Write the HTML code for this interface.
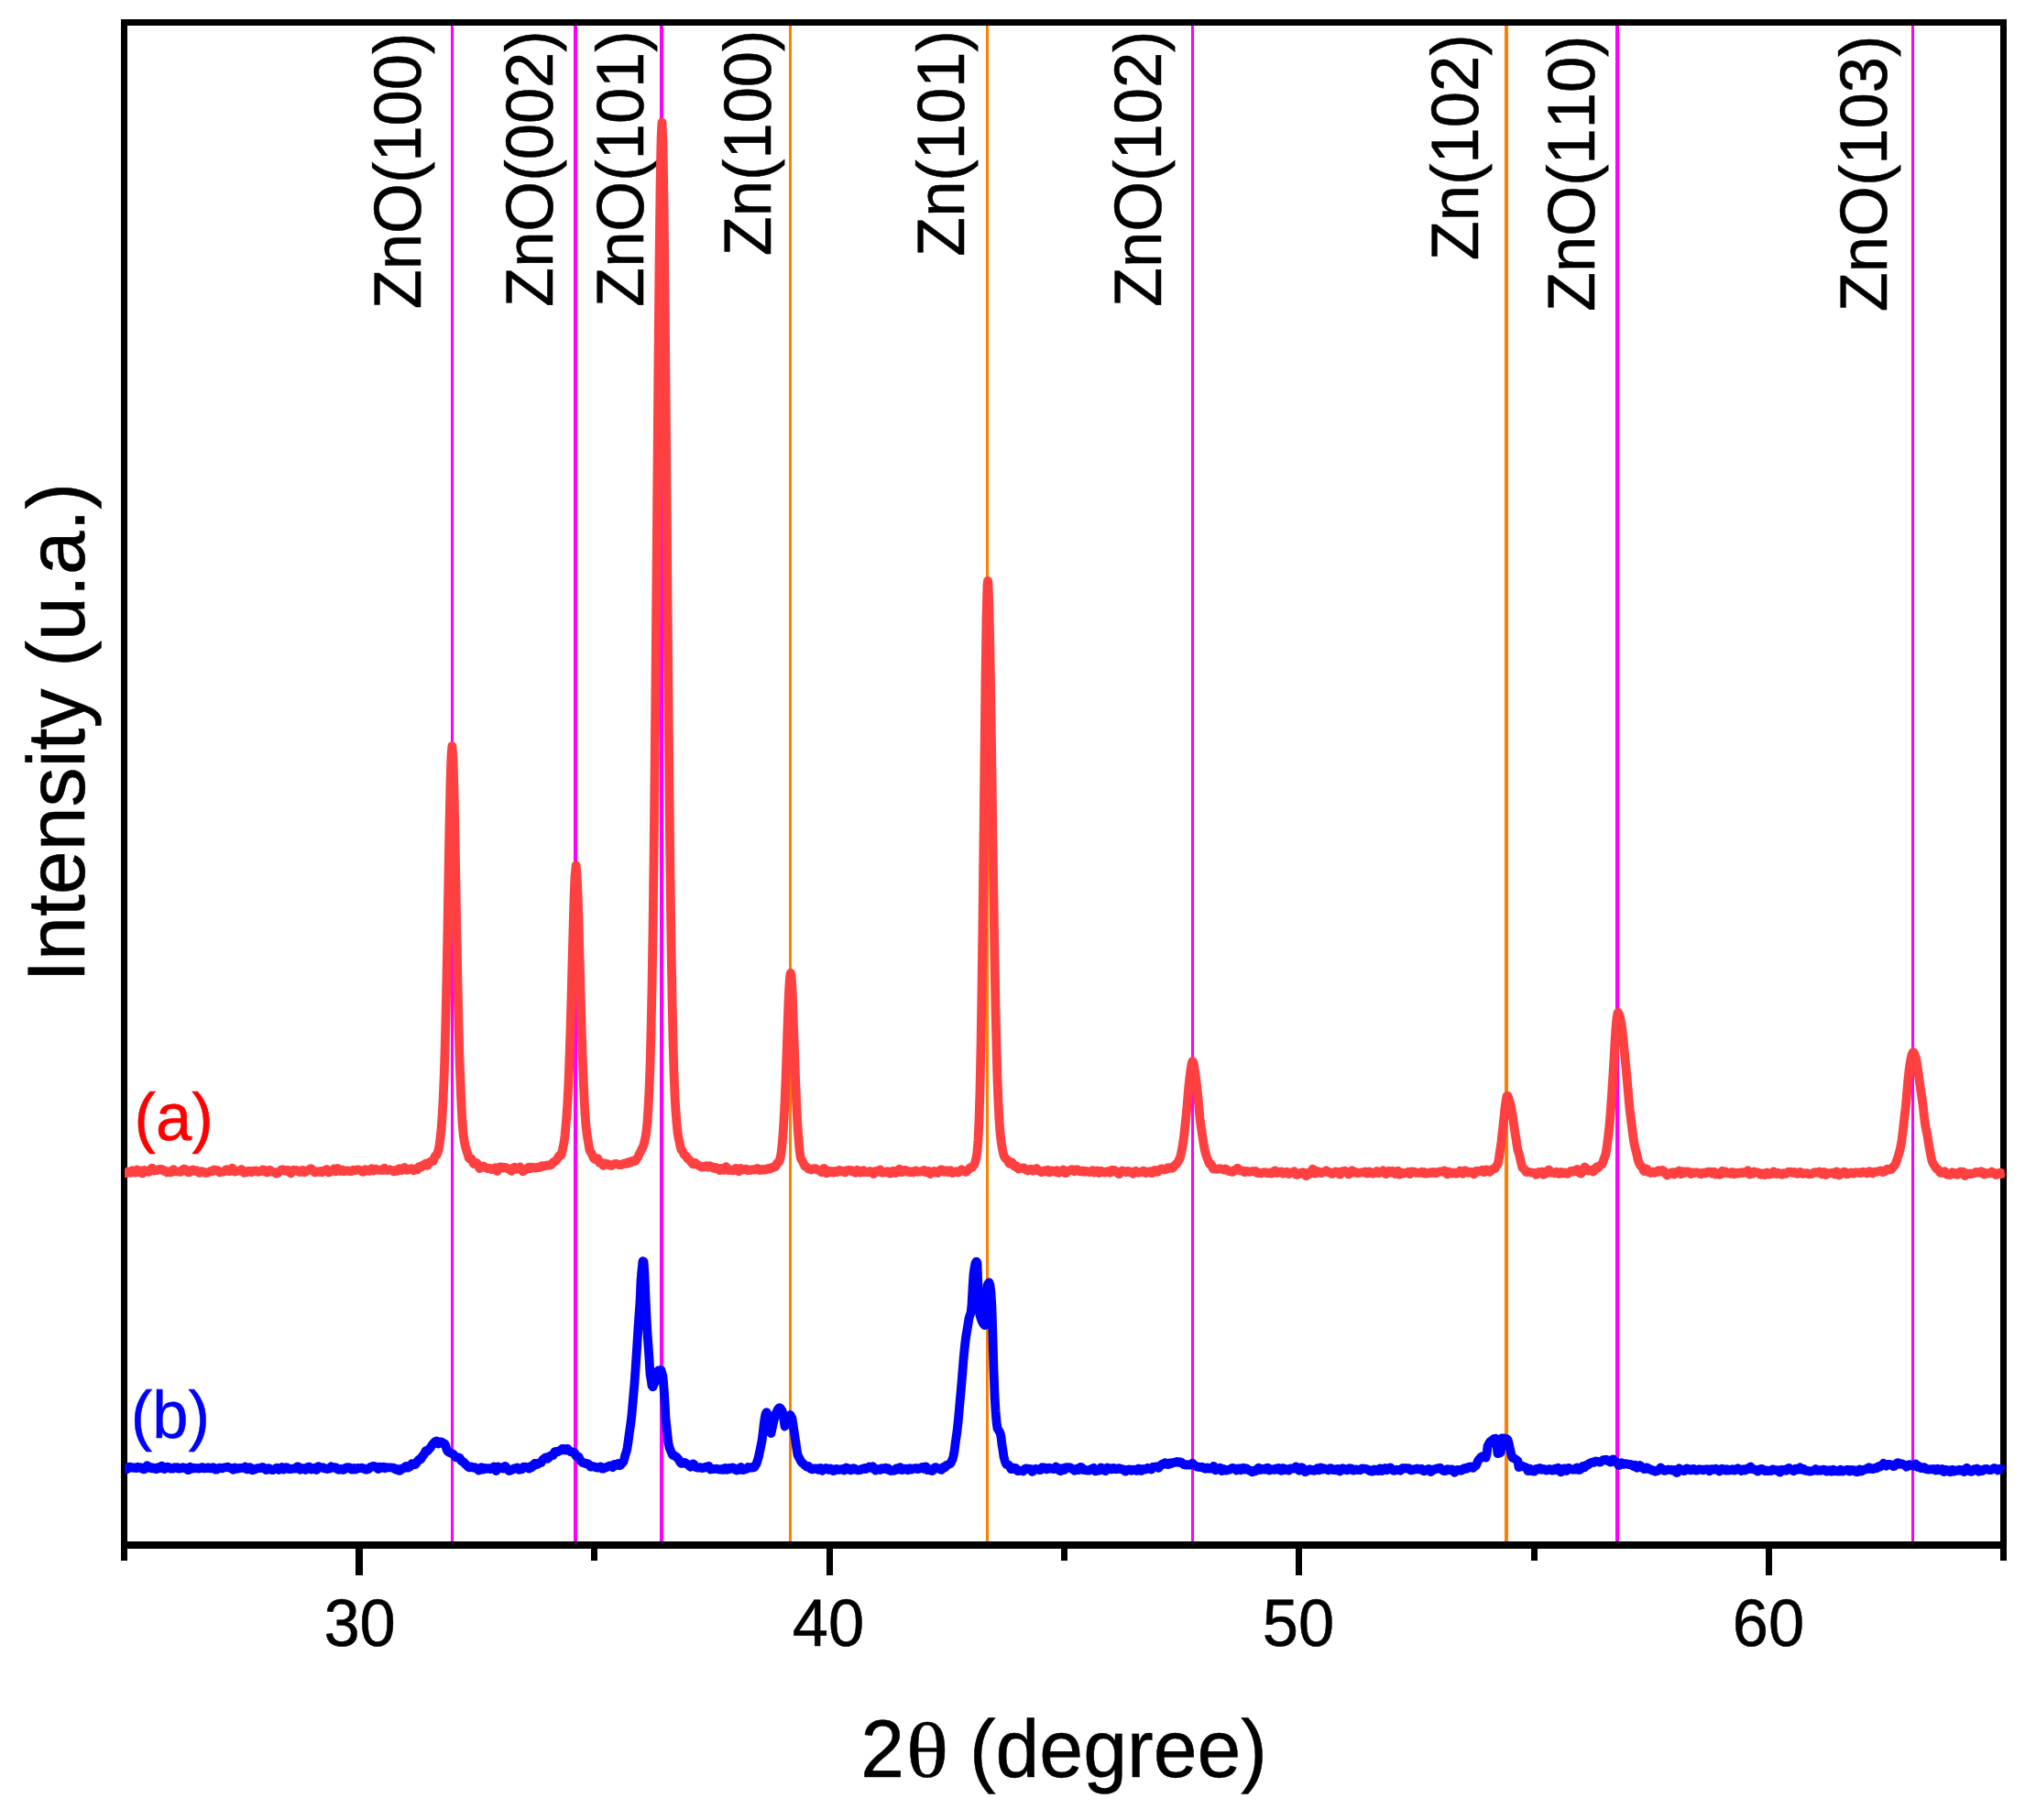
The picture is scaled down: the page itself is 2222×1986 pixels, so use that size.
<!DOCTYPE html>
<html lang="en"><head><meta charset="utf-8"><title>XRD patterns</title>
<style>html,body{margin:0;padding:0;background:#fff}svg{display:block}text{font-family:"Liberation Sans",Arial,Helvetica,sans-serif;fill:#000;stroke:#000;stroke-width:.5px;font-kerning:none;text-rendering:geometricPrecision}.t{font-size:70.5px}.ax{font-size:86px}.th{font-family:"Liberation Serif","DejaVu Serif",serif}</style></head><body>
<svg width="2222" height="1986" viewBox="0 0 2222 1986">
<rect width="2222" height="1986" fill="#fff"/>
<g shape-rendering="crispEdges">
<rect x="492" y="28" width="3" height="1654" fill="#ff00ff"/>
<rect x="626" y="28" width="4" height="1654" fill="#ff00ff"/>
<rect x="720" y="28" width="4" height="1654" fill="#ff00ff"/>
<rect x="861" y="28" width="3" height="1654" fill="#ff8000"/>
<rect x="1076" y="28" width="3" height="1654" fill="#ff8000"/>
<rect x="1300" y="28" width="3" height="1654" fill="#ff00ff"/>
<rect x="1642" y="28" width="4" height="1654" fill="#ff8000"/>
<rect x="1763" y="28" width="4" height="1654" fill="#ff00ff"/>
<rect x="2086" y="28" width="3" height="1654" fill="#ff00ff"/>
</g>
<g fill="#000" shape-rendering="crispEdges">
<rect x="132" y="21" width="2058" height="7"/>
<rect x="132" y="1682" width="2058" height="8"/>
<rect x="132" y="21" width="7" height="1682"/>
<rect x="2183" y="21" width="7" height="1682"/>
<rect x="388" y="1690" width="8" height="29"/>
<rect x="902" y="1690" width="7" height="29"/>
<rect x="1414" y="1690" width="7" height="29"/>
<rect x="1927" y="1690" width="7" height="29"/>
<rect x="645" y="1690" width="7" height="13"/>
<rect x="1158" y="1690" width="7" height="13"/>
<rect x="1671" y="1690" width="7" height="13"/>
</g>
<text class="t" transform="translate(459 337.2) rotate(-90) scale(1 1.035)">ZnO(100)</text>
<text class="t" transform="translate(603 334.9) rotate(-90) scale(1 1.035)">ZnO(002)</text>
<text class="t" transform="translate(702 334.9) rotate(-90) scale(1 1.035)">ZnO(101)</text>
<text class="t" transform="translate(841 279.3) rotate(-90) scale(1 1.035)">Zn(100)</text>
<text class="t" transform="translate(1052 279.9) rotate(-90) scale(1 1.035)">Zn(101)</text>
<text class="t" transform="translate(1267 335.1) rotate(-90) scale(1 1.035)">ZnO(102)</text>
<text class="t" transform="translate(1613 284.2) rotate(-90) scale(1 1.035)">Zn(102)</text>
<text class="t" transform="translate(1740 340.1) rotate(-90) scale(1 1.035)">ZnO(110)</text>
<text class="t" transform="translate(2059 340.2) rotate(-90) scale(1 1.035)">ZnO(103)</text>
<clipPath id="cc"><rect x="136" y="0" width="2052" height="1986"/></clipPath>
<g clip-path="url(#cc)">
<path d="M135.5 1277.4L136.5 1278L137.5 1280L138.5 1280L139.5 1278.7L140.5 1278.5L141.5 1279.2L142.5 1279.8L143.5 1278.8L144.5 1277.3L145.5 1277.7L146.5 1278.8L147.5 1279.6L148.5 1278.4L149.5 1276.4L150.5 1277.4L151.5 1279L152.5 1278L153.5 1277.4L154.5 1279.5L155.5 1280.5L156.5 1278.2L157.5 1277L158.5 1277.9L159.5 1278.5L160.5 1278.5L161.5 1278.7L162.5 1278.8L163.5 1277.5L164.5 1275.8L165.5 1274.7L166.5 1274.9L167.5 1276.6L168.5 1277.5L169.5 1277.1L170.5 1277L171.5 1277.2L172.5 1276.7L173.5 1275.9L174.5 1276L175.5 1276.1L176.5 1275.8L177.5 1276.5L178.5 1277.8L179.5 1278L180.5 1277.6L181.5 1278.5L182.5 1279.3L183.5 1278.7L184.5 1278.2L185.5 1278.5L186.5 1279.4L187.5 1279.1L188.5 1277L189.5 1276.2L190.5 1277.6L191.5 1278.3L192.5 1278.1L193.5 1278.4L194.5 1278.3L195.5 1278.3L196.5 1278.9L197.5 1278.6L198.5 1277.5L199.5 1276.5L200.5 1275.6L201.5 1275.8L202.5 1276L203.5 1276.7L204.5 1278.6L205.5 1279.3L206.5 1279.3L207.5 1278.9L208.5 1277.7L209.5 1276.8L210.5 1276.5L211.5 1277L212.5 1277.8L213.5 1277.6L214.5 1277.3L215.5 1278.3L216.5 1279.1L217.5 1279.8L218.5 1279.5L219.5 1278.2L220.5 1278.2L221.5 1278.6L222.5 1278.8L223.5 1279.5L224.5 1279.9L225.5 1279.7L226.5 1279.7L227.5 1279.2L228.5 1278.7L229.5 1278.1L230.5 1277.6L231.5 1278.2L232.5 1277.6L233.5 1276.4L234.5 1276.8L235.5 1277.3L236.5 1276.9L237.5 1277.1L238.5 1278.2L239.5 1279.3L240.5 1279L241.5 1278.6L242.5 1278.8L243.5 1278.4L244.5 1278.5L245.5 1278.3L246.5 1276.5L247.5 1276.2L248.5 1277.2L249.5 1277.9L250.5 1278.2L251.5 1277.7L252.5 1275.8L253.5 1274.7L254.5 1276.1L255.5 1278.1L256.5 1278.6L257.5 1278L258.5 1277.8L259.5 1277.7L260.5 1277.3L261.5 1277.3L262.5 1277.2L263.5 1276.1L264.5 1276.6L265.5 1279L266.5 1279.7L267.5 1279L268.5 1279.2L269.5 1279.1L270.5 1278L271.5 1277.7L272.5 1277.9L273.5 1278L274.5 1279L275.5 1278.7L276.5 1277.7L277.5 1277.6L278.5 1277.6L279.5 1277.5L280.5 1278.1L281.5 1278.8L282.5 1278.5L283.5 1277.9L284.5 1278.1L285.5 1277.3L286.5 1276.5L287.5 1276.9L288.5 1276.6L289.5 1277.4L290.5 1279.2L291.5 1279.4L292.5 1278.1L293.5 1277.4L294.5 1276.8L295.5 1277.2L296.5 1278.6L297.5 1278.8L298.5 1278.8L299.5 1279L300.5 1279.8L301.5 1280.5L302.5 1280.4L303.5 1279.9L304.5 1278.6L305.5 1277.9L306.5 1276.9L307.5 1276.3L308.5 1276.6L309.5 1276.5L310.5 1277L311.5 1277.7L312.5 1277.4L313.5 1277L314.5 1276.9L315.5 1277.7L316.5 1279.6L317.5 1280.3L318.5 1279.1L319.5 1277.3L320.5 1276.7L321.5 1277.1L322.5 1277.2L323.5 1276.8L324.5 1277.3L325.5 1278.4L326.5 1278.8L327.5 1279L328.5 1278.6L329.5 1276.8L330.5 1276.8L331.5 1278.5L332.5 1279.2L333.5 1278.7L334.5 1278L335.5 1277.6L336.5 1277L337.5 1276.2L338.5 1275.5L339.5 1275.1L340.5 1276.2L341.5 1277.1L342.5 1278L343.5 1279.3L344.5 1278.8L345.5 1278.2L346.5 1278.6L347.5 1278.9L348.5 1278.7L349.5 1278L350.5 1278.5L351.5 1279.1L352.5 1278L353.5 1277.5L354.5 1277.6L355.5 1276.4L356.5 1276.1L357.5 1278L358.5 1279.4L359.5 1279.2L360.5 1278.2L361.5 1277.6L362.5 1277.4L363.5 1276.3L364.5 1275.4L365.5 1276.7L366.5 1278.3L367.5 1276.8L368.5 1274.9L369.5 1275.9L370.5 1277.5L371.5 1277.9L372.5 1277.2L373.5 1276.5L374.5 1277.5L375.5 1278.2L376.5 1278L377.5 1277.8L378.5 1277.4L379.5 1277.5L380.5 1277.9L381.5 1278L382.5 1278.2L383.5 1278.2L384.5 1277.2L385.5 1276.6L386.5 1276.9L387.5 1277.1L388.5 1276.6L389.5 1276.6L390.5 1276.4L391.5 1276.4L392.5 1276.9L393.5 1277.2L394.5 1277.7L395.5 1278.6L396.5 1278.8L397.5 1277.2L398.5 1276.1L399.5 1277L400.5 1277.6L401.5 1277.5L402.5 1277.8L403.5 1277.9L404.5 1276.3L405.5 1275.1L406.5 1276.4L407.5 1277.3L408.5 1276.5L409.5 1275.6L410.5 1275.8L411.5 1276.5L412.5 1276.7L413.5 1276.7L414.5 1276.8L415.5 1276.7L416.5 1276.8L417.5 1277L418.5 1275.3L419.5 1274.8L420.5 1276.5L421.5 1276.9L422.5 1276.7L423.5 1276.9L424.5 1276.5L425.5 1276.2L426.5 1276.8L427.5 1277L428.5 1277.2L429.5 1278.4L430.5 1278.3L431.5 1277.2L432.5 1277.9L433.5 1277.8L434.5 1275.8L435.5 1275.3L436.5 1276L437.5 1276.5L438.5 1277.1L439.5 1276.4L440.5 1274.2L441.5 1274L442.5 1275.5L443.5 1276.9L444.5 1276.9L445.5 1276.1L446.5 1275.9L447.5 1275.6L448.5 1275.2L449.5 1275.1L450.5 1275.7L451.5 1277.2L452.5 1276.8L453.5 1275.4L454.5 1275.8L455.5 1276.2L456.5 1274.3L457.5 1273L458.5 1273.9L459.5 1273.9L460.5 1272.2L461.5 1271.5L462.5 1271.6L463.5 1271L464.5 1269.6L465.5 1270.4L466.5 1271.9L467.5 1270.1L468.5 1268.5L469.5 1268.2L470.5 1267.2L471.5 1267.3L472.5 1267.2L473.5 1265.2L474.5 1262.4L475.5 1261L476.5 1260.4L477.5 1258.2L478.5 1254.8L479.5 1249.7L480.5 1242.2L481.5 1232.5L482.5 1219.5L483.5 1201.8L484.5 1178.6L485.5 1149L486.5 1111.3L487.5 1065.5L488.5 1012.7L489.5 955.7L490.5 900.6L491.5 854.8L492.5 824.8L493.4 814.1L493.5 814.9L494.5 829L495.5 862.9L496.5 912.1L497.5 967.5L498.5 1021L499.5 1072.3L500.5 1118.6L501.5 1154.3L502.5 1181.7L503.5 1205.5L504.5 1224.5L505.5 1236.5L506.5 1243.9L507.5 1249.1L508.5 1253.5L509.5 1256.6L510.5 1259.6L511.5 1263.3L512.5 1264.6L513.5 1264.3L514.5 1264.4L515.5 1266.5L516.5 1269.2L517.5 1270.2L518.5 1270L519.5 1268.8L520.5 1269.1L521.5 1270.9L522.5 1273.2L523.5 1275L524.5 1273.8L525.5 1272.8L526.5 1272.7L527.5 1272.5L528.5 1273.1L529.5 1274.1L530.5 1274.2L531.5 1274.5L532.5 1275.2L533.5 1275.1L534.5 1274.8L535.5 1275.1L536.5 1276L537.5 1275.9L538.5 1275.4L539.5 1274.9L540.5 1274.2L541.5 1275.6L542.5 1278L543.5 1276.9L544.5 1274.3L545.5 1273.4L546.5 1273.5L547.5 1273.5L548.5 1274L549.5 1274.6L550.5 1274L551.5 1274L552.5 1274.5L553.5 1274.8L554.5 1275.4L555.5 1275.9L556.5 1276.5L557.5 1277.4L558.5 1277.7L559.5 1276.3L560.5 1274L561.5 1273.8L562.5 1275.4L563.5 1275.9L564.5 1275.6L565.5 1275.7L566.5 1274.5L567.5 1273.5L568.5 1274.8L569.5 1276.8L570.5 1278.2L571.5 1278L572.5 1276.4L573.5 1276L574.5 1276L575.5 1275.4L576.5 1273.9L577.5 1273.6L578.5 1275.1L579.5 1274.7L580.5 1273.6L581.5 1274L582.5 1274.1L583.5 1274.2L584.5 1274.5L585.5 1273.9L586.5 1273.9L587.5 1274L588.5 1273.9L589.5 1273.8L590.5 1272.3L591.5 1272.2L592.5 1272.7L593.5 1272.1L594.5 1272.4L595.5 1272.2L596.5 1271.6L597.5 1271.5L598.5 1271.5L599.5 1271.6L600.5 1271.6L601.5 1271L602.5 1269.9L603.5 1268.6L604.5 1267.8L605.5 1267.3L606.5 1266.7L607.5 1265.6L608.5 1264.2L609.5 1262.2L610.5 1261L611.5 1261.3L612.5 1260.2L613.5 1256.2L614.5 1251.8L615.5 1247.1L616.5 1239.3L617.5 1228.4L618.5 1216.5L619.5 1201.5L620.5 1180.9L621.5 1154.5L622.5 1123.9L623.5 1089.3L624.5 1051.4L625.5 1014.1L626.5 980.2L627.5 955.9L628.5 946.7L628.6 944.3L629.5 953.3L630.5 974.7L631.5 1005.5L632.5 1042L633.5 1080.2L634.5 1117.3L635.5 1149L636.5 1174.6L637.5 1196.7L638.5 1215.4L639.5 1228.9L640.5 1237.1L641.5 1243.4L642.5 1249.5L643.5 1254.8L644.5 1257.1L645.5 1258.1L646.5 1260.7L647.5 1263.2L648.5 1264.5L649.5 1265.2L650.5 1265.3L651.5 1264.1L652.5 1264.2L653.5 1267L654.5 1269.2L655.5 1269.1L656.5 1268.7L657.5 1270.6L658.5 1271.9L659.5 1270.3L660.5 1269.6L661.5 1270.4L662.5 1270.1L663.5 1270.2L664.5 1271.3L665.5 1271.7L666.5 1271.8L667.5 1272L668.5 1271.2L669.5 1270.5L670.5 1270.3L671.5 1269.9L672.5 1270L673.5 1270.3L674.5 1270.5L675.5 1270.9L676.5 1271.1L677.5 1271.1L678.5 1270.9L679.5 1270.1L680.5 1269.8L681.5 1270.1L682.5 1269.2L683.5 1269.1L684.5 1269.8L685.5 1268.9L686.5 1268L687.5 1268.3L688.5 1268.6L689.5 1267.3L690.5 1266.6L691.5 1267L692.5 1267.3L693.5 1266.7L694.5 1264.8L695.5 1263.6L696.5 1262.3L697.5 1259.7L698.5 1257.9L699.5 1255.9L700.5 1253.6L701.5 1252L702.5 1249.3L703.5 1245.3L704.5 1240.7L705.5 1234.3L706.5 1223.9L707.5 1208.8L708.5 1189.6L709.5 1163L710.5 1125.9L711.5 1077.7L712.5 1016.5L713.5 940.7L714.5 849.9L715.5 745L716.5 630.1L717.5 511.3L718.5 394.3L719.5 288.6L720.5 205.4L721.5 152.3L722.4 134.2L722.5 133.5L723.5 157.5L724.5 219.3L725.5 309.5L726.5 418.3L727.5 536.1L728.5 654.1L729.5 766.7L730.5 868.9L731.5 956.3L732.5 1029.8L733.5 1089.2L734.5 1135.3L735.5 1170.9L736.5 1196L737.5 1212.6L738.5 1225.4L739.5 1235.6L740.5 1241.8L741.5 1246L742.5 1250.9L743.5 1254.5L744.5 1255.5L745.5 1257.1L746.5 1259.6L747.5 1260.7L748.5 1261.2L749.5 1262.6L750.5 1264.4L751.5 1265L752.5 1265.6L753.5 1267.1L754.5 1268.2L755.5 1269.6L756.5 1270.6L757.5 1269.4L758.5 1268.8L759.5 1270.3L760.5 1270.9L761.5 1270.8L762.5 1271.7L763.5 1272.4L764.5 1272.6L765.5 1273.6L766.5 1273.7L767.5 1273L768.5 1273.3L769.5 1273.3L770.5 1272.2L771.5 1272.4L772.5 1273.7L773.5 1273L774.5 1272.2L775.5 1272.8L776.5 1273.7L777.5 1274.1L778.5 1273.8L779.5 1274.9L780.5 1275.3L781.5 1273.9L782.5 1274.7L783.5 1275.9L784.5 1275.9L785.5 1277.1L786.5 1276.7L787.5 1274.8L788.5 1275.5L789.5 1276.9L790.5 1276L791.5 1274L792.5 1273.2L793.5 1275.4L794.5 1277L795.5 1276.3L796.5 1276.5L797.5 1277L798.5 1276.3L799.5 1276.3L800.5 1277.3L801.5 1276.7L802.5 1275.3L803.5 1275L804.5 1275.9L805.5 1277.7L806.5 1278.3L807.5 1276.3L808.5 1274.9L809.5 1275.8L810.5 1276.5L811.5 1276.4L812.5 1276.1L813.5 1275.7L814.5 1275.6L815.5 1276.5L816.5 1277.3L817.5 1277.1L818.5 1277L819.5 1276.7L820.5 1276.1L821.5 1276.1L822.5 1276.6L823.5 1276.7L824.5 1276.2L825.5 1275.2L826.5 1275L827.5 1276.4L828.5 1276.9L829.5 1275.9L830.5 1276.3L831.5 1276.8L832.5 1275.9L833.5 1275.9L834.5 1276.6L835.5 1276.5L836.5 1276L837.5 1275.5L838.5 1275L839.5 1275.4L840.5 1275.5L841.5 1274.2L842.5 1273.8L843.5 1274.2L844.5 1273.7L845.5 1273.5L846.5 1272.9L847.5 1270.1L848.5 1268.7L849.5 1268.6L850.5 1267.2L851.5 1264.1L852.5 1258L853.5 1249.8L854.5 1237.9L855.5 1222.2L856.5 1203.4L857.5 1179.1L858.5 1150.7L859.5 1120.6L860.5 1093.3L861.5 1073.5L862.5 1062.8L862.8 1061.8L863.5 1064.4L864.5 1079.7L865.5 1104.8L866.5 1133L867.5 1160.8L868.5 1187.5L869.5 1210.9L870.5 1229L871.5 1243L872.5 1254.4L873.5 1262.2L874.5 1265.3L875.5 1266.5L876.5 1268.5L877.5 1270.9L878.5 1272.7L879.5 1273.2L880.5 1273.5L881.5 1274.5L882.5 1275.6L883.5 1275.6L884.5 1275.8L885.5 1276.5L886.5 1275.8L887.5 1275.2L888.5 1275.4L889.5 1275.1L890.5 1275.3L891.5 1276.3L892.5 1276.9L893.5 1277L894.5 1276.9L895.5 1278.1L896.5 1279L897.5 1277.3L898.5 1275.5L899.5 1275L900.5 1277L901.5 1280L902.5 1280.1L903.5 1278.5L904.5 1277.6L905.5 1278.6L906.5 1279L907.5 1277.9L908.5 1278.3L909.5 1279.5L910.5 1279.2L911.5 1278L912.5 1278.7L913.5 1279.1L914.5 1277.6L915.5 1276.9L916.5 1276.9L917.5 1277.5L918.5 1278.3L919.5 1277.9L920.5 1277.6L921.5 1278.7L922.5 1279.4L923.5 1278L924.5 1277.2L925.5 1277.1L926.5 1276.6L927.5 1277.3L928.5 1277.9L929.5 1277.2L930.5 1277.8L931.5 1278.9L932.5 1279.2L933.5 1279.7L934.5 1278.6L935.5 1276.7L936.5 1277.1L937.5 1278.9L938.5 1279.5L939.5 1279.4L940.5 1279.3L941.5 1278.1L942.5 1277.1L943.5 1278.1L944.5 1279L945.5 1279L946.5 1278.9L947.5 1279.1L948.5 1278.7L949.5 1278L950.5 1278.3L951.5 1279L952.5 1280.1L953.5 1281L954.5 1279.8L955.5 1278L956.5 1278L957.5 1278.7L958.5 1278.6L959.5 1277.6L960.5 1276.4L961.5 1277.3L962.5 1279.5L963.5 1279.6L964.5 1278.9L965.5 1279.3L966.5 1279.2L967.5 1278.5L968.5 1278.2L969.5 1279.1L970.5 1280.2L971.5 1280.5L972.5 1280.2L973.5 1279L974.5 1277.7L975.5 1277.9L976.5 1279.5L977.5 1280.1L978.5 1279.4L979.5 1278.8L980.5 1277.5L981.5 1275.6L982.5 1276.5L983.5 1279.1L984.5 1279L985.5 1277.8L986.5 1277.6L987.5 1276.8L988.5 1276.9L989.5 1278.4L990.5 1278.8L991.5 1278.1L992.5 1278.2L993.5 1279.2L994.5 1278.8L995.5 1278.4L996.5 1279.4L997.5 1279L998.5 1277.7L999.5 1277.4L1000.5 1278.2L1001.5 1278.8L1002.5 1278.4L1003.5 1278.6L1004.5 1278.3L1005.5 1277.8L1006.5 1278.2L1007.5 1277.4L1008.5 1276.9L1009.5 1277.8L1010.5 1279.1L1011.5 1279.3L1012.5 1277.8L1013.5 1277.9L1014.5 1280.1L1015.5 1281L1016.5 1279.9L1017.5 1279.2L1018.5 1278.9L1019.5 1278L1020.5 1278.3L1021.5 1279.5L1022.5 1279.6L1023.5 1279.9L1024.5 1279.2L1025.5 1277.5L1026.5 1276.5L1027.5 1276.3L1028.5 1276.6L1029.5 1278L1030.5 1278.7L1031.5 1277.8L1032.5 1277.2L1033.5 1278.3L1034.5 1279L1035.5 1278.3L1036.5 1277.4L1037.5 1277.2L1038.5 1278.5L1039.5 1280L1040.5 1279.6L1041.5 1278.9L1042.5 1278.5L1043.5 1278.2L1044.5 1278.7L1045.5 1279.5L1046.5 1279.3L1047.5 1278.3L1048.5 1277L1049.5 1276.3L1050.5 1276.8L1051.5 1277.5L1052.5 1277.8L1053.5 1278.8L1054.5 1278.8L1055.5 1277.4L1056.5 1276.7L1057.5 1275.7L1058.5 1274.4L1059.5 1274L1060.5 1274L1061.5 1273.4L1062.5 1272L1063.5 1270.1L1064.5 1267.3L1065.5 1263.2L1066.5 1256.4L1067.5 1243.8L1068.5 1222.4L1069.5 1189.3L1070.5 1142.1L1071.5 1080.1L1072.5 1004.3L1073.5 917.2L1074.5 825.5L1075.5 740.7L1076.5 674.6L1077.5 638.5L1078 633.8L1078.5 637.5L1079.5 664.6L1080.5 713.1L1081.5 775.5L1082.5 845.9L1083.5 917.6L1084.5 985.1L1085.5 1046.6L1086.5 1100L1087.5 1143.4L1088.5 1177.5L1089.5 1203.4L1090.5 1222.6L1091.5 1236.3L1092.5 1245.2L1093.5 1251.5L1094.5 1256.8L1095.5 1260.8L1096.5 1262.9L1097.5 1264.1L1098.5 1265.1L1099.5 1265.7L1100.5 1267.6L1101.5 1269.7L1102.5 1269.9L1103.5 1268.7L1104.5 1268.4L1105.5 1269.9L1106.5 1271.7L1107.5 1273L1108.5 1273L1109.5 1272.6L1110.5 1274.3L1111.5 1275.6L1112.5 1275.2L1113.5 1275L1114.5 1274.7L1115.5 1274.6L1116.5 1274.4L1117.5 1274.5L1118.5 1275.5L1119.5 1276.3L1120.5 1276.8L1121.5 1277.4L1122.5 1276.7L1123.5 1276L1124.5 1275.8L1125.5 1275.6L1126.5 1277.2L1127.5 1277.7L1128.5 1276.9L1129.5 1276.9L1130.5 1275.8L1131.5 1275L1132.5 1276.3L1133.5 1277.6L1134.5 1277.7L1135.5 1278.3L1136.5 1279.1L1137.5 1278.8L1138.5 1278L1139.5 1277.3L1140.5 1277.5L1141.5 1278.2L1142.5 1277.4L1143.5 1276.6L1144.5 1278.3L1145.5 1279.4L1146.5 1278L1147.5 1277.3L1148.5 1277.6L1149.5 1277.7L1150.5 1278.1L1151.5 1278.7L1152.5 1278L1153.5 1277.2L1154.5 1278.9L1155.5 1279.8L1156.5 1278.5L1157.5 1278L1158.5 1278.2L1159.5 1277.4L1160.5 1276.5L1161.5 1277.6L1162.5 1280L1163.5 1280.1L1164.5 1278.3L1165.5 1277.6L1166.5 1277.5L1167.5 1277.3L1168.5 1276.7L1169.5 1276.1L1170.5 1276.3L1171.5 1277.1L1172.5 1278.2L1173.5 1277.7L1174.5 1276.4L1175.5 1276.1L1176.5 1276.9L1177.5 1277.9L1178.5 1278.3L1179.5 1278.4L1180.5 1278.2L1181.5 1277.4L1182.5 1277.7L1183.5 1278.7L1184.5 1278.1L1185.5 1277.9L1186.5 1278.6L1187.5 1278.5L1188.5 1278.9L1189.5 1279L1190.5 1278.2L1191.5 1277.5L1192.5 1277.2L1193.5 1278.5L1194.5 1279.5L1195.5 1278.8L1196.5 1277.8L1197.5 1277.4L1198.5 1279L1199.5 1280L1200.5 1278.2L1201.5 1277.8L1202.5 1278.8L1203.5 1278.5L1204.5 1278.9L1205.5 1279.5L1206.5 1279L1207.5 1278.4L1208.5 1278.2L1209.5 1278.1L1210.5 1278.9L1211.5 1279.9L1212.5 1278.4L1213.5 1276.7L1214.5 1277.4L1215.5 1277.7L1216.5 1277.1L1217.5 1278.2L1218.5 1279.1L1219.5 1279.3L1220.5 1280.7L1221.5 1281.1L1222.5 1279.6L1223.5 1278.2L1224.5 1277.5L1225.5 1277.6L1226.5 1277.9L1227.5 1278.3L1228.5 1279L1229.5 1279.1L1230.5 1277.8L1231.5 1277.9L1232.5 1278.9L1233.5 1278.7L1234.5 1278.7L1235.5 1280.1L1236.5 1280.8L1237.5 1279.8L1238.5 1278.4L1239.5 1277.8L1240.5 1278.6L1241.5 1279.6L1242.5 1279.7L1243.5 1279.2L1244.5 1278.9L1245.5 1278.8L1246.5 1278.2L1247.5 1277.6L1248.5 1277.8L1249.5 1279.4L1250.5 1280.1L1251.5 1278.8L1252.5 1278.6L1253.5 1278.8L1254.5 1278.3L1255.5 1278.8L1256.5 1280.2L1257.5 1280.1L1258.5 1278.4L1259.5 1277.1L1260.5 1277L1261.5 1277.9L1262.5 1278.9L1263.5 1278.7L1264.5 1277.4L1265.5 1276.5L1266.5 1276L1267.5 1275.4L1268.5 1275.3L1269.5 1275.9L1270.5 1276.5L1271.5 1276.4L1272.5 1276.1L1273.5 1275.5L1274.5 1274.1L1275.5 1274.1L1276.5 1274.8L1277.5 1274.2L1278.5 1273.9L1279.5 1274.7L1280.5 1274L1281.5 1272.2L1282.5 1271.3L1283.5 1270.4L1284.5 1269.3L1285.5 1268.1L1286.5 1266L1287.5 1264.4L1288.5 1261.2L1289.5 1256.3L1290.5 1251.3L1291.5 1244.8L1292.5 1236.7L1293.5 1227.4L1294.5 1217.5L1295.5 1207.1L1296.5 1195.1L1297.5 1183.7L1298.5 1174.9L1299.5 1167L1300.5 1160.8L1301.5 1158L1301.6 1159.6L1302.5 1159.8L1303.5 1165.3L1304.5 1172.7L1305.5 1179.8L1306.5 1188.1L1307.5 1198.3L1308.5 1209.2L1309.5 1220L1310.5 1228L1311.5 1234.3L1312.5 1241.2L1313.5 1247.7L1314.5 1253.3L1315.5 1257.6L1316.5 1261.1L1317.5 1263.8L1318.5 1266.3L1319.5 1269.2L1320.5 1270.5L1321.5 1270L1322.5 1271.7L1323.5 1274.7L1324.5 1275.7L1325.5 1275.5L1326.5 1275.4L1327.5 1275.7L1328.5 1275.9L1329.5 1275.6L1330.5 1275.1L1331.5 1275.2L1332.5 1275.7L1333.5 1275.8L1334.5 1275.9L1335.5 1276.6L1336.5 1276.3L1337.5 1275.5L1338.5 1276L1339.5 1277L1340.5 1277.5L1341.5 1278L1342.5 1278L1343.5 1278.3L1344.5 1278.8L1345.5 1278.9L1346.5 1277.9L1347.5 1276.6L1348.5 1277.4L1349.5 1276.8L1350.5 1274.7L1351.5 1275.5L1352.5 1276.9L1353.5 1277.4L1354.5 1277.6L1355.5 1277.4L1356.5 1277.6L1357.5 1278.5L1358.5 1279L1359.5 1278.3L1360.5 1277.9L1361.5 1278.3L1362.5 1278.6L1363.5 1278.8L1364.5 1278.5L1365.5 1278.3L1366.5 1278.3L1367.5 1278L1368.5 1278.5L1369.5 1278.7L1370.5 1278L1371.5 1278.7L1372.5 1280.1L1373.5 1280L1374.5 1279.6L1375.5 1280.2L1376.5 1280.3L1377.5 1279.9L1378.5 1279.4L1379.5 1279.2L1380.5 1279.2L1381.5 1279.4L1382.5 1280.1L1383.5 1280.2L1384.5 1279.8L1385.5 1279.6L1386.5 1280L1387.5 1280.6L1388.5 1280.3L1389.5 1279.3L1390.5 1278L1391.5 1277.4L1392.5 1278.9L1393.5 1280.1L1394.5 1279.1L1395.5 1278.7L1396.5 1279.6L1397.5 1279.5L1398.5 1278.5L1399.5 1279.4L1400.5 1280.7L1401.5 1279.8L1402.5 1279.2L1403.5 1279.2L1404.5 1278.7L1405.5 1279.5L1406.5 1281.1L1407.5 1280.5L1408.5 1279.3L1409.5 1279.4L1410.5 1279.5L1411.5 1278.9L1412.5 1278.2L1413.5 1279.6L1414.5 1281.8L1415.5 1281.9L1416.5 1281.2L1417.5 1280.9L1418.5 1280.9L1419.5 1280L1420.5 1279.4L1421.5 1280L1422.5 1279.3L1423.5 1279.8L1424.5 1282.4L1425.5 1283.4L1426.5 1282.1L1427.5 1280L1428.5 1279.3L1429.5 1281L1430.5 1280.8L1431.5 1277.7L1432.5 1275.8L1433.5 1276.1L1434.5 1278.4L1435.5 1280.7L1436.5 1279.5L1437.5 1278L1438.5 1278.5L1439.5 1279.3L1440.5 1279.7L1441.5 1279.9L1442.5 1280.1L1443.5 1279.1L1444.5 1278.5L1445.5 1278.9L1446.5 1278L1447.5 1277.3L1448.5 1278.4L1449.5 1279.2L1450.5 1278.9L1451.5 1279.4L1452.5 1280.2L1453.5 1281L1454.5 1280.6L1455.5 1279.6L1456.5 1279.2L1457.5 1278.4L1458.5 1278.8L1459.5 1279L1460.5 1279.1L1461.5 1281.1L1462.5 1281.5L1463.5 1279.6L1464.5 1278.3L1465.5 1278.8L1466.5 1278.5L1467.5 1277.6L1468.5 1278L1469.5 1278.6L1470.5 1280L1471.5 1281.3L1472.5 1281.4L1473.5 1280.4L1474.5 1278.5L1475.5 1277.3L1476.5 1277.9L1477.5 1279.5L1478.5 1279.5L1479.5 1278.9L1480.5 1279.6L1481.5 1280.2L1482.5 1280.1L1483.5 1279.8L1484.5 1279.5L1485.5 1279.3L1486.5 1279.4L1487.5 1279.4L1488.5 1279L1489.5 1278.4L1490.5 1278.8L1491.5 1280.4L1492.5 1280.5L1493.5 1278.8L1494.5 1278.4L1495.5 1279L1496.5 1279.5L1497.5 1280.4L1498.5 1280.7L1499.5 1280.1L1500.5 1279.7L1501.5 1279.3L1502.5 1278L1503.5 1278.4L1504.5 1280.2L1505.5 1279.7L1506.5 1278.9L1507.5 1279.2L1508.5 1278.3L1509.5 1277.4L1510.5 1278.3L1511.5 1280.3L1512.5 1281.2L1513.5 1279.9L1514.5 1278.2L1515.5 1277.8L1516.5 1279.1L1517.5 1279.7L1518.5 1278.1L1519.5 1277.7L1520.5 1279.1L1521.5 1280.2L1522.5 1280.9L1523.5 1280.1L1524.5 1278L1525.5 1277.8L1526.5 1280.2L1527.5 1281.7L1528.5 1280.7L1529.5 1279.5L1530.5 1279.8L1531.5 1280.5L1532.5 1280.4L1533.5 1280.1L1534.5 1280.2L1535.5 1279.5L1536.5 1278.9L1537.5 1280.2L1538.5 1281.1L1539.5 1279.6L1540.5 1278.4L1541.5 1278.6L1542.5 1279L1543.5 1278.7L1544.5 1278.8L1545.5 1279.7L1546.5 1279.9L1547.5 1279.8L1548.5 1279.9L1549.5 1279.8L1550.5 1279.1L1551.5 1278.8L1552.5 1280.2L1553.5 1280.3L1554.5 1279.1L1555.5 1279.7L1556.5 1280.6L1557.5 1279.9L1558.5 1279.7L1559.5 1280.3L1560.5 1279.9L1561.5 1279.2L1562.5 1279.8L1563.5 1279.9L1564.5 1278.9L1565.5 1279.2L1566.5 1280.3L1567.5 1280.2L1568.5 1279.4L1569.5 1278.9L1570.5 1278.8L1571.5 1278.4L1572.5 1278.4L1573.5 1278.6L1574.5 1278.4L1575.5 1277.7L1576.5 1277.4L1577.5 1278.8L1578.5 1280.6L1579.5 1281.2L1580.5 1279.9L1581.5 1278.6L1582.5 1279.5L1583.5 1280.3L1584.5 1279.9L1585.5 1280.4L1586.5 1280.4L1587.5 1279.5L1588.5 1279.9L1589.5 1280.8L1590.5 1280.1L1591.5 1279.4L1592.5 1279.1L1593.5 1277.5L1594.5 1277.7L1595.5 1280.1L1596.5 1280.8L1597.5 1278.8L1598.5 1277.3L1599.5 1277.3L1600.5 1278.2L1601.5 1279.4L1602.5 1279.7L1603.5 1279L1604.5 1278.6L1605.5 1279.5L1606.5 1280L1607.5 1280.3L1608.5 1281.3L1609.5 1280.4L1610.5 1277.9L1611.5 1277.6L1612.5 1277.9L1613.5 1278.2L1614.5 1278.3L1615.5 1277.4L1616.5 1277.1L1617.5 1276.7L1618.5 1277L1619.5 1279L1620.5 1278.3L1621.5 1276.3L1622.5 1276.4L1623.5 1277.4L1624.5 1278.4L1625.5 1278.8L1626.5 1278.3L1627.5 1277.2L1628.5 1276L1629.5 1275.4L1630.5 1275.3L1631.5 1275.2L1632.5 1273.9L1633.5 1271.9L1634.5 1270.5L1635.5 1266.6L1636.5 1259.5L1637.5 1253.1L1638.5 1245.9L1639.5 1236.9L1640.5 1227.8L1641.5 1218.2L1642.5 1208.8L1643.5 1201.4L1644.5 1196.1L1645 1196.5L1645.5 1195.8L1646.5 1198.5L1647.5 1201.8L1648.5 1205.3L1649.5 1210.2L1650.5 1216.2L1651.5 1222.5L1652.5 1229.5L1653.5 1236.2L1654.5 1242.4L1655.5 1249.5L1656.5 1255.3L1657.5 1257.9L1658.5 1261.6L1659.5 1266.4L1660.5 1270.5L1661.5 1274.2L1662.5 1275.3L1663.5 1275.6L1664.5 1277.3L1665.5 1278.9L1666.5 1279L1667.5 1278.8L1668.5 1278.8L1669.5 1279L1670.5 1279.4L1671.5 1279.6L1672.5 1279.7L1673.5 1279.8L1674.5 1279.8L1675.5 1280.8L1676.5 1281.8L1677.5 1281.4L1678.5 1279.9L1679.5 1279L1680.5 1279.5L1681.5 1278.9L1682.5 1278.6L1683.5 1280.7L1684.5 1281.8L1685.5 1280.5L1686.5 1279.6L1687.5 1280.3L1688.5 1279.5L1689.5 1277L1690.5 1276.4L1691.5 1278L1692.5 1279.5L1693.5 1279.6L1694.5 1279.3L1695.5 1279.6L1696.5 1280.2L1697.5 1279.6L1698.5 1278.8L1699.5 1279.1L1700.5 1279.8L1701.5 1280.9L1702.5 1280.5L1703.5 1278.9L1704.5 1279.5L1705.5 1280.2L1706.5 1279.5L1707.5 1279.5L1708.5 1279.8L1709.5 1280.2L1710.5 1280.9L1711.5 1280.4L1712.5 1279.1L1713.5 1278.4L1714.5 1277.8L1715.5 1277.7L1716.5 1278.6L1717.5 1278.5L1718.5 1278.2L1719.5 1278.2L1720.5 1276.5L1721.5 1276L1722.5 1278L1723.5 1279.5L1724.5 1280.4L1725.5 1280.5L1726.5 1279.2L1727.5 1278.2L1728.5 1276.1L1729.5 1273.5L1730.5 1274.3L1731.5 1276L1732.5 1276.9L1733.5 1277.5L1734.5 1277.2L1735.5 1277L1736.5 1277L1737.5 1277.7L1738.5 1278.5L1739.5 1277.8L1740.5 1276.3L1741.5 1274.2L1742.5 1273.5L1743.5 1274.8L1744.5 1274L1745.5 1272.1L1746.5 1271.7L1747.5 1271.2L1748.5 1270.1L1749.5 1267.6L1750.5 1264.3L1751.5 1262.2L1752.5 1259.1L1753.5 1252.9L1754.5 1245.2L1755.5 1237.5L1756.5 1227.4L1757.5 1215.6L1758.5 1202.2L1759.5 1186.7L1760.5 1171.6L1761.5 1154.9L1762.5 1136.5L1763.5 1121.3L1764.5 1110.7L1765.5 1105.3L1766 1104.9L1766.5 1105.9L1767.5 1107.9L1768.5 1112.2L1769.5 1117.6L1770.5 1124.6L1771.5 1134L1772.5 1144.5L1773.5 1154.8L1774.5 1165L1775.5 1175.7L1776.5 1187.1L1777.5 1198.8L1778.5 1209.5L1779.5 1217.8L1780.5 1225.5L1781.5 1233.8L1782.5 1241.4L1783.5 1247.8L1784.5 1252.6L1785.5 1256.1L1786.5 1260.3L1787.5 1265.3L1788.5 1268.2L1789.5 1270.6L1790.5 1272.2L1791.5 1272.7L1792.5 1274.3L1793.5 1276.7L1794.5 1278.2L1795.5 1277.4L1796.5 1275.5L1797.5 1275.8L1798.5 1278.1L1799.5 1279.3L1800.5 1279.2L1801.5 1280L1802.5 1279.8L1803.5 1278.5L1804.5 1278.9L1805.5 1279.9L1806.5 1279.5L1807.5 1279.2L1808.5 1278.6L1809.5 1277.3L1810.5 1277.2L1811.5 1278.3L1812.5 1278.3L1813.5 1277.1L1814.5 1277L1815.5 1277.8L1816.5 1278.3L1817.5 1279.8L1818.5 1281.7L1819.5 1282.5L1820.5 1281.6L1821.5 1280.5L1822.5 1280.3L1823.5 1280L1824.5 1279.4L1825.5 1279.2L1826.5 1280.3L1827.5 1281.5L1828.5 1280.5L1829.5 1278.8L1830.5 1278.6L1831.5 1278.5L1832.5 1277.7L1833.5 1278.8L1834.5 1281.2L1835.5 1280.7L1836.5 1278.2L1837.5 1278.4L1838.5 1279.8L1839.5 1279.2L1840.5 1278.4L1841.5 1278.4L1842.5 1278.3L1843.5 1278.8L1844.5 1280.1L1845.5 1281L1846.5 1280.2L1847.5 1279.4L1848.5 1280.1L1849.5 1279.9L1850.5 1279.4L1851.5 1279.4L1852.5 1279.3L1853.5 1279.8L1854.5 1280.1L1855.5 1281L1856.5 1281.3L1857.5 1279.9L1858.5 1279.6L1859.5 1280L1860.5 1280.4L1861.5 1280.4L1862.5 1279.3L1863.5 1278.7L1864.5 1278.7L1865.5 1278.7L1866.5 1278.7L1867.5 1279.7L1868.5 1280.6L1869.5 1278.9L1870.5 1278.7L1871.5 1280.9L1872.5 1281.5L1873.5 1280.4L1874.5 1280.2L1875.5 1281.6L1876.5 1281.8L1877.5 1281.5L1878.5 1280L1879.5 1277.7L1880.5 1278.3L1881.5 1280.3L1882.5 1279.9L1883.5 1278.7L1884.5 1279.4L1885.5 1280.2L1886.5 1279.7L1887.5 1279.7L1888.5 1280.9L1889.5 1280.9L1890.5 1279L1891.5 1279.6L1892.5 1281.3L1893.5 1280.4L1894.5 1279.8L1895.5 1280.5L1896.5 1280.7L1897.5 1279.9L1898.5 1279.5L1899.5 1280.1L1900.5 1279.8L1901.5 1279.3L1902.5 1280L1903.5 1279.8L1904.5 1279.4L1905.5 1279.8L1906.5 1278.1L1907.5 1277.2L1908.5 1279.9L1909.5 1281.6L1910.5 1280.7L1911.5 1280.8L1912.5 1280.9L1913.5 1279L1914.5 1278.4L1915.5 1279.1L1916.5 1279.3L1917.5 1279.4L1918.5 1279.4L1919.5 1279.8L1920.5 1281.3L1921.5 1281.7L1922.5 1280.9L1923.5 1280.3L1924.5 1280.5L1925.5 1282L1926.5 1282L1927.5 1279.9L1928.5 1279.4L1929.5 1280.6L1930.5 1281.6L1931.5 1281.1L1932.5 1280.6L1933.5 1281L1934.5 1279.9L1935.5 1278.4L1936.5 1279.3L1937.5 1280.6L1938.5 1281L1939.5 1280.1L1940.5 1279.8L1941.5 1280.9L1942.5 1280.8L1943.5 1281.2L1944.5 1281.7L1945.5 1280.5L1946.5 1280.2L1947.5 1280.8L1948.5 1280.9L1949.5 1280.8L1950.5 1279.7L1951.5 1278.7L1952.5 1279.2L1953.5 1279.4L1954.5 1278.6L1955.5 1278.9L1956.5 1279.8L1957.5 1279.2L1958.5 1279L1959.5 1279.7L1960.5 1280.6L1961.5 1280.8L1962.5 1280.3L1963.5 1279.3L1964.5 1279L1965.5 1279.9L1966.5 1280.6L1967.5 1280.9L1968.5 1280.5L1969.5 1280.2L1970.5 1280.5L1971.5 1280.1L1972.5 1280.1L1973.5 1280.8L1974.5 1281.3L1975.5 1281.1L1976.5 1281L1977.5 1281L1978.5 1280.2L1979.5 1279.5L1980.5 1279.2L1981.5 1279.1L1982.5 1279.6L1983.5 1279.7L1984.5 1278.9L1985.5 1278.5L1986.5 1279.2L1987.5 1280.8L1988.5 1281.4L1989.5 1279.9L1990.5 1278.8L1991.5 1280.6L1992.5 1282L1993.5 1280.9L1994.5 1280.1L1995.5 1280.7L1996.5 1280.6L1997.5 1280.1L1998.5 1280.1L1999.5 1279.8L2000.5 1279.6L2001.5 1280.9L2002.5 1281.5L2003.5 1279.5L2004.5 1278.5L2005.5 1280.6L2006.5 1282.3L2007.5 1282.3L2008.5 1281L2009.5 1280L2010.5 1279.7L2011.5 1278.8L2012.5 1278.7L2013.5 1278.8L2014.5 1279.6L2015.5 1281.4L2016.5 1281.4L2017.5 1280.2L2018.5 1280.1L2019.5 1280.1L2020.5 1279.4L2021.5 1279.7L2022.5 1280.6L2023.5 1280.5L2024.5 1279.9L2025.5 1279.1L2026.5 1279.4L2027.5 1279.7L2028.5 1279.4L2029.5 1280.2L2030.5 1280.2L2031.5 1279.3L2032.5 1278.9L2033.5 1278.7L2034.5 1279.2L2035.5 1279.5L2036.5 1279.9L2037.5 1280.4L2038.5 1279.7L2039.5 1278.3L2040.5 1278.1L2041.5 1278.7L2042.5 1279.8L2043.5 1280.4L2044.5 1279.7L2045.5 1278.6L2046.5 1278.7L2047.5 1278.9L2048.5 1278.8L2049.5 1278.4L2050.5 1277.9L2051.5 1277.6L2052.5 1277.5L2053.5 1278.3L2054.5 1279L2055.5 1278.9L2056.5 1278.5L2057.5 1277.9L2058.5 1276.6L2059.5 1275.8L2060.5 1276.5L2061.5 1276.6L2062.5 1276.1L2063.5 1276.2L2064.5 1275.8L2065.5 1274L2066.5 1272.8L2067.5 1272.2L2068.5 1270.4L2069.5 1267.7L2070.5 1264.7L2071.5 1261.7L2072.5 1258.5L2073.5 1254.9L2074.5 1250.4L2075.5 1244.2L2076.5 1236.6L2077.5 1227.7L2078.5 1218.3L2079.5 1210.3L2080.5 1200.4L2081.5 1188.2L2082.5 1177.3L2083.5 1167.9L2084.5 1160.6L2085.5 1155.1L2086.5 1151L2087.5 1148.5L2087.5 1148.7L2088.5 1148.3L2089.5 1150.5L2090.5 1153.1L2091.5 1156.8L2092.5 1163.2L2093.5 1170.4L2094.5 1177.9L2095.5 1184.7L2096.5 1191.2L2097.5 1198.2L2098.5 1205.2L2099.5 1214.1L2100.5 1223.1L2101.5 1229.5L2102.5 1234.7L2103.5 1239.3L2104.5 1245.5L2105.5 1251.8L2106.5 1257.1L2107.5 1262.3L2108.5 1266.7L2109.5 1269.2L2110.5 1270.7L2111.5 1272.2L2112.5 1274.1L2113.5 1275.5L2114.5 1275.5L2115.5 1276.4L2116.5 1278.3L2117.5 1279.8L2118.5 1280L2119.5 1278.8L2120.5 1278.8L2121.5 1278.3L2122.5 1278.2L2123.5 1280.3L2124.5 1281.4L2125.5 1281.9L2126.5 1281.5L2127.5 1281L2128.5 1282.1L2129.5 1281.4L2130.5 1279.3L2131.5 1279.5L2132.5 1281.2L2133.5 1281.3L2134.5 1280.2L2135.5 1281L2136.5 1281.8L2137.5 1280.6L2138.5 1279.2L2139.5 1278.5L2140.5 1279L2141.5 1279.2L2142.5 1278.8L2143.5 1280.8L2144.5 1283.1L2145.5 1282.1L2146.5 1280.5L2147.5 1280.9L2148.5 1280.9L2149.5 1280.5L2150.5 1281.2L2151.5 1281.1L2152.5 1280.6L2153.5 1280.4L2154.5 1280.3L2155.5 1279.9L2156.5 1279L2157.5 1279.3L2158.5 1279.3L2159.5 1279.1L2160.5 1279.9L2161.5 1279.8L2162.5 1278.3L2163.5 1278.7L2164.5 1280.9L2165.5 1281.7L2166.5 1280.5L2167.5 1280L2168.5 1280.5L2169.5 1280.5L2170.5 1280.2L2171.5 1280.4L2172.5 1279.9L2173.5 1278.5L2174.5 1279.4L2175.5 1280.4L2176.5 1279.8L2177.5 1280.8L2178.5 1282L2179.5 1281.6L2180.5 1280.8L2181.5 1280.3L2182.5 1279.6L2183.5 1279.7L2184.5 1280.9L2185.5 1280.5L2186.5 1278.9" fill="none" stroke="#ff4040" stroke-width="9.8" stroke-linejoin="round" stroke-linecap="butt"/>
<path d="M135.5 1602.7L136.5 1601.8L137.5 1602.8L138.5 1603.2L139.5 1602.2L140.5 1600.9L141.5 1600.6L142.5 1601.6L143.5 1601.3L144.5 1601.1L145.5 1601.8L146.5 1601.7L147.5 1601.4L148.5 1602.1L149.5 1601.9L150.5 1600.8L151.5 1601.3L152.5 1601.9L153.5 1601.3L154.5 1601.8L155.5 1602.8L156.5 1603.4L157.5 1603.2L158.5 1602.8L159.5 1601L160.5 1599.1L161.5 1600.1L162.5 1601.1L163.5 1601L164.5 1602L165.5 1602.3L166.5 1601.4L167.5 1601.7L168.5 1602.5L169.5 1602.9L170.5 1603.2L171.5 1602.6L172.5 1601.1L173.5 1601.2L174.5 1602.1L175.5 1600.8L176.5 1599.6L177.5 1600.5L178.5 1602.2L179.5 1603L180.5 1602.4L181.5 1601.3L182.5 1600.7L183.5 1600.8L184.5 1601.2L185.5 1602.3L186.5 1602.7L187.5 1602.7L188.5 1602.7L189.5 1602L190.5 1601.3L191.5 1601.7L192.5 1601.6L193.5 1601.3L194.5 1602.6L195.5 1602.7L196.5 1602L197.5 1602.2L198.5 1601.7L199.5 1601.3L200.5 1602L201.5 1602.2L202.5 1601.7L203.5 1601.9L204.5 1603.6L205.5 1604.2L206.5 1602L207.5 1600.9L208.5 1601.6L209.5 1602.6L210.5 1602.7L211.5 1601.8L212.5 1602.1L213.5 1602.2L214.5 1602L215.5 1602.4L216.5 1602.2L217.5 1602.5L218.5 1602.3L219.5 1601.5L220.5 1601.1L221.5 1601.3L222.5 1602.3L223.5 1602.4L224.5 1602.1L225.5 1602L226.5 1601.4L227.5 1601.5L228.5 1602.2L229.5 1602.4L230.5 1602.3L231.5 1601.8L232.5 1601.2L233.5 1601.8L234.5 1603L235.5 1603.7L236.5 1603.7L237.5 1602.8L238.5 1601.8L239.5 1601.7L240.5 1601.7L241.5 1602L242.5 1602.3L243.5 1601.8L244.5 1601.5L245.5 1601.3L246.5 1601.3L247.5 1600.9L248.5 1600.6L249.5 1601.4L250.5 1601.7L251.5 1601.7L252.5 1602L253.5 1603L254.5 1603.7L255.5 1602.6L256.5 1601.5L257.5 1602.1L258.5 1602.8L259.5 1602.6L260.5 1602.2L261.5 1601.8L262.5 1602L263.5 1601.9L264.5 1601.8L265.5 1601.9L266.5 1601.2L267.5 1600.5L268.5 1601.6L269.5 1603.4L270.5 1603.3L271.5 1602.1L272.5 1601.2L273.5 1601.3L274.5 1602.8L275.5 1604.3L276.5 1604L277.5 1603.4L278.5 1603.3L279.5 1602.8L280.5 1602.2L281.5 1602.3L282.5 1602.1L283.5 1602.1L284.5 1602L285.5 1601.3L286.5 1601L287.5 1601.5L288.5 1602.1L289.5 1603.1L290.5 1604L291.5 1603.4L292.5 1602.2L293.5 1602.2L294.5 1603.1L295.5 1603.6L296.5 1603.9L297.5 1604.1L298.5 1603.7L299.5 1603.2L300.5 1602.8L301.5 1601.8L302.5 1601.7L303.5 1603L304.5 1603.9L305.5 1603.3L306.5 1601.9L307.5 1601.2L308.5 1602.3L309.5 1603.6L310.5 1602.8L311.5 1601.4L312.5 1601.2L313.5 1601.5L314.5 1602.2L315.5 1603.1L316.5 1603.1L317.5 1603.2L318.5 1602.8L319.5 1602.3L320.5 1602.4L321.5 1602.5L322.5 1602.2L323.5 1601.7L324.5 1600.5L325.5 1600.4L326.5 1602.6L327.5 1603.7L328.5 1603L329.5 1602.1L330.5 1602.1L331.5 1602.3L332.5 1603.5L333.5 1603.9L334.5 1602L335.5 1601L336.5 1600.8L337.5 1600.6L338.5 1602.1L339.5 1603.5L340.5 1602.8L341.5 1603.1L342.5 1602.9L343.5 1601.7L344.5 1603.3L345.5 1604L346.5 1601.3L347.5 1600.2L348.5 1601.5L349.5 1601.7L350.5 1601.3L351.5 1601.5L352.5 1601.3L353.5 1601.6L354.5 1602.5L355.5 1602.7L356.5 1602.9L357.5 1603L358.5 1602.8L359.5 1602.6L360.5 1601.2L361.5 1600.4L362.5 1601.4L363.5 1601.6L364.5 1601.2L365.5 1601.2L366.5 1601.3L367.5 1602L368.5 1603.4L369.5 1603.8L370.5 1603.5L371.5 1603L372.5 1602.8L373.5 1603.6L374.5 1604L375.5 1603.6L376.5 1602.7L377.5 1601.6L378.5 1601.2L379.5 1601.4L380.5 1601.2L381.5 1601.3L382.5 1602.6L383.5 1603.6L384.5 1603.6L385.5 1603.2L386.5 1602.1L387.5 1602.6L388.5 1603.4L389.5 1602.4L390.5 1601.9L391.5 1602.1L392.5 1602.2L393.5 1602.2L394.5 1601.7L395.5 1601.8L396.5 1602.4L397.5 1602.6L398.5 1603.4L399.5 1603.8L400.5 1602.8L401.5 1603L402.5 1603L403.5 1601.4L404.5 1600.8L405.5 1600.6L406.5 1600.1L407.5 1599.9L408.5 1600.1L409.5 1600.3L410.5 1601L411.5 1602L412.5 1603L413.5 1602.1L414.5 1600.7L415.5 1601.7L416.5 1601.9L417.5 1601L418.5 1600.6L419.5 1601.6L420.5 1602.2L421.5 1601.3L422.5 1601.2L423.5 1601.4L424.5 1601.4L425.5 1601.4L426.5 1601.3L427.5 1601.5L428.5 1601.8L429.5 1601.6L430.5 1602.4L431.5 1603.5L432.5 1602.9L433.5 1602.9L434.5 1604.1L435.5 1604.9L436.5 1604.8L437.5 1603.5L438.5 1602.5L439.5 1602.7L440.5 1602.2L441.5 1601.3L442.5 1600.3L443.5 1600L444.5 1601.7L445.5 1601.6L446.5 1600.6L447.5 1600.4L448.5 1598.5L449.5 1597.1L450.5 1598.1L451.5 1598L452.5 1597.9L453.5 1598.1L454.5 1596.4L455.5 1594.7L456.5 1593.5L457.5 1592.4L458.5 1592.7L459.5 1592L460.5 1589.7L461.5 1588.5L462.5 1587.6L463.5 1585.4L464.5 1583.3L465.5 1582.9L466.5 1583.4L467.5 1582.3L468.5 1580.9L469.5 1580L470.5 1578.6L471.5 1576.9L472.5 1575.6L473.5 1574.5L474.5 1573.4L475.5 1572.7L476.5 1572.5L477.5 1573.9L478.5 1575.5L479.5 1575.1L480.5 1573.6L481.5 1573.3L482.5 1574L483.5 1574.6L484.5 1575L485.5 1575.6L486.5 1578.3L487.5 1581.6L488.5 1583.6L489.5 1584.4L490.5 1585L491.5 1585.1L492.5 1585.6L493.5 1586.4L494.5 1586.7L495.5 1587.8L496.5 1589.1L497.5 1590.2L498.5 1590.5L499.5 1590.3L500.5 1590.3L501.5 1590.7L502.5 1592.3L503.5 1594L504.5 1594.8L505.5 1595L506.5 1596L507.5 1597.4L508.5 1598.1L509.5 1599.2L510.5 1600.4L511.5 1601L512.5 1601.4L513.5 1601L514.5 1600.5L515.5 1601L516.5 1601.6L517.5 1601.7L518.5 1601.2L519.5 1601.9L520.5 1602.9L521.5 1603.6L522.5 1604.5L523.5 1604.1L524.5 1602.7L525.5 1601.2L526.5 1601.7L527.5 1603.5L528.5 1603.3L529.5 1601.9L530.5 1602.2L531.5 1602.7L532.5 1602.1L533.5 1602.2L534.5 1602.8L535.5 1603.1L536.5 1602.5L537.5 1601.8L538.5 1600.8L539.5 1600.4L540.5 1603.2L541.5 1605L542.5 1602.2L543.5 1600.4L544.5 1601.6L545.5 1601.8L546.5 1601.5L547.5 1602.3L548.5 1602.5L549.5 1602L550.5 1600.3L551.5 1599.9L552.5 1601.1L553.5 1602.3L554.5 1604L555.5 1605L556.5 1604.8L557.5 1604.3L558.5 1603.9L559.5 1603.5L560.5 1602.6L561.5 1602.2L562.5 1602.4L563.5 1602L564.5 1601.4L565.5 1602.3L566.5 1603.9L567.5 1603.6L568.5 1602.8L569.5 1603.3L570.5 1602.2L571.5 1600.6L572.5 1600.7L573.5 1601.3L574.5 1601L575.5 1601.1L576.5 1602L577.5 1602.5L578.5 1600.8L579.5 1599.8L580.5 1601L581.5 1600.4L582.5 1598L583.5 1597L584.5 1596.9L585.5 1597.6L586.5 1598L587.5 1597.2L588.5 1596.5L589.5 1596.4L590.5 1596.1L591.5 1594.2L592.5 1592.6L593.5 1592.2L594.5 1591.2L595.5 1590.4L596.5 1590.6L597.5 1591.7L598.5 1591.1L599.5 1589.5L600.5 1588.7L601.5 1588.1L602.5 1588L603.5 1588.1L604.5 1586.3L605.5 1584.1L606.5 1584L607.5 1584.6L608.5 1584.3L609.5 1583.5L610.5 1583.2L611.5 1583L612.5 1581.8L613.5 1581L614.5 1581L615.5 1581.9L616.5 1582.5L617.5 1582.4L618.5 1581.1L619.5 1580.9L620.5 1582.5L621.5 1583.4L622.5 1584.1L623.5 1584.5L624.5 1584.3L625.5 1584.6L626.5 1584.8L627.5 1586L628.5 1588.5L629.5 1589.5L630.5 1589.1L631.5 1589.7L632.5 1591.7L633.5 1593.8L634.5 1595L635.5 1595.8L636.5 1596.3L637.5 1596.2L638.5 1596.7L639.5 1597.3L640.5 1597L641.5 1597.1L642.5 1598L643.5 1599.3L644.5 1600.7L645.5 1600.6L646.5 1600L647.5 1600.3L648.5 1600.4L649.5 1600.9L650.5 1601.4L651.5 1601.5L652.5 1601.7L653.5 1601.6L654.5 1600.6L655.5 1600.5L656.5 1602L657.5 1602.7L658.5 1602.7L659.5 1602.2L660.5 1601.1L661.5 1601.1L662.5 1601L663.5 1600.3L664.5 1599.9L665.5 1599.3L666.5 1599.3L667.5 1600.4L668.5 1601.1L669.5 1600L670.5 1597.9L671.5 1597.8L672.5 1598.8L673.5 1598L674.5 1597L675.5 1597.9L676.5 1599.1L677.5 1598.5L678.5 1597L679.5 1596L680.5 1595.1L681.5 1591.3L682.5 1587.3L683.5 1584.6L684.5 1580.3L685.5 1573.7L686.5 1566.2L687.5 1559.3L688.5 1552.3L689.5 1543.3L690.5 1532.1L691.5 1520.5L692.5 1508.9L693.5 1494.8L694.5 1479.6L695.5 1464.2L696.5 1448L697.5 1434L698.5 1420.4L699.5 1396.6L700.5 1385.8L701.5 1376.2L702.5 1376.6L703.5 1391.4L704.5 1415.1L705.5 1437.7L706.5 1454.9L707.5 1468.4L708.5 1482.5L709.5 1499.4L710.5 1505.3L711.5 1512.1L712.5 1513.3L713.5 1510.6L714.5 1508.9L715.5 1506.1L716.5 1500.8L717.5 1496.6L718.5 1495.5L719.5 1495.9L720.5 1495.1L721.5 1495.1L722.5 1498.5L723.5 1502.7L724.5 1514.1L725.5 1529.4L726.5 1547.8L727.5 1557.2L728.5 1566.5L729.5 1575.2L730.5 1579.4L731.5 1581.9L732.5 1584.3L733.5 1586.8L734.5 1588L735.5 1588L736.5 1588.9L737.5 1589.5L738.5 1589.9L739.5 1591.2L740.5 1592.2L741.5 1594.1L742.5 1596L743.5 1596.8L744.5 1596.9L745.5 1596.5L746.5 1595.8L747.5 1596L748.5 1596.7L749.5 1597.5L750.5 1597.8L751.5 1598.2L752.5 1599.8L753.5 1600.7L754.5 1600.3L755.5 1598.9L756.5 1597.3L757.5 1598.1L758.5 1600.4L759.5 1601L760.5 1601.1L761.5 1601.7L762.5 1601.6L763.5 1601.1L764.5 1601.1L765.5 1601.7L766.5 1602L767.5 1601.3L768.5 1601.4L769.5 1601.6L770.5 1600.7L771.5 1600.9L772.5 1600.8L773.5 1599.8L774.5 1601.4L775.5 1603.4L776.5 1603L777.5 1602.9L778.5 1603L779.5 1602.9L780.5 1602.9L781.5 1602.6L782.5 1602.8L783.5 1603.1L784.5 1603.5L785.5 1603.7L786.5 1603.4L787.5 1603L788.5 1603.3L789.5 1603.8L790.5 1602.9L791.5 1601.9L792.5 1603L793.5 1603.8L794.5 1602.2L795.5 1602L796.5 1602.9L797.5 1602.4L798.5 1601.8L799.5 1601.5L800.5 1601.6L801.5 1602.5L802.5 1603.8L803.5 1604.4L804.5 1603.7L805.5 1604L806.5 1603.7L807.5 1601.5L808.5 1601.1L809.5 1602.5L810.5 1604.2L811.5 1604.2L812.5 1603L813.5 1603L814.5 1603.1L815.5 1601.9L816.5 1601L817.5 1601.5L818.5 1601.8L819.5 1601.1L820.5 1601.1L821.5 1601.6L822.5 1601.3L823.5 1600.9L824.5 1598.5L825.5 1597.4L826.5 1594.3L827.5 1591.1L828.5 1587L829.5 1582.2L830.5 1577.3L831.5 1572.3L832.5 1565L833.5 1555.4L834.5 1548.1L835.5 1543.1L836.5 1541.2L837.5 1542.5L838.5 1543.9L839.5 1550.8L840.5 1557.6L841.5 1564L842.5 1559.3L843.5 1555L844.5 1550.4L845.5 1546.6L846.5 1543.8L847.5 1540.9L848.5 1538.6L849.5 1537.2L850.5 1536.1L851.5 1536.5L852.5 1538L853.5 1539.3L854.5 1543.2L855.5 1549.8L856.5 1556.5L857.5 1553.1L858.5 1549L859.5 1546.5L860.5 1545.7L861.5 1544.6L862.5 1544L863.5 1546L864.5 1547.9L865.5 1554.5L866.5 1561.1L867.5 1567.8L868.5 1574.4L869.5 1581.2L870.5 1587.7L871.5 1589.5L872.5 1591.3L873.5 1593.4L874.5 1595.3L875.5 1596.3L876.5 1596.9L877.5 1598L878.5 1599.1L879.5 1599.8L880.5 1600.6L881.5 1600L882.5 1600L883.5 1601.3L884.5 1602.6L885.5 1603L886.5 1603.4L887.5 1603.2L888.5 1602.4L889.5 1602.5L890.5 1602.4L891.5 1602.5L892.5 1603.7L893.5 1603.9L894.5 1602.3L895.5 1602L896.5 1604.1L897.5 1604.8L898.5 1603.7L899.5 1603L900.5 1602.5L901.5 1602L902.5 1602.4L903.5 1603.2L904.5 1603.9L905.5 1603.5L906.5 1602.5L907.5 1603.1L908.5 1604.5L909.5 1605L910.5 1604.7L911.5 1603.7L912.5 1602.9L913.5 1603.1L914.5 1603.8L915.5 1603.8L916.5 1603.3L917.5 1603.3L918.5 1603.5L919.5 1603L920.5 1602.9L921.5 1604.3L922.5 1603.7L923.5 1601.5L924.5 1601.7L925.5 1602.6L926.5 1602.4L927.5 1603.1L928.5 1604.4L929.5 1603.4L930.5 1602.5L931.5 1602.2L932.5 1602.3L933.5 1603.5L934.5 1603.6L935.5 1603.8L936.5 1604.3L937.5 1603.8L938.5 1604.1L939.5 1603.7L940.5 1602.9L941.5 1603.1L942.5 1602.2L943.5 1602L944.5 1603L945.5 1602.7L946.5 1602L947.5 1601.6L948.5 1600.5L949.5 1600.8L950.5 1601.6L951.5 1600.8L952.5 1600.3L953.5 1601.1L954.5 1603.5L955.5 1604.7L956.5 1603.6L957.5 1603.3L958.5 1603.2L959.5 1603.4L960.5 1603.9L961.5 1602.4L962.5 1602.1L963.5 1603L964.5 1603L965.5 1602.6L966.5 1601.8L967.5 1602.7L968.5 1603.6L969.5 1602.5L970.5 1603.3L971.5 1604.9L972.5 1605L973.5 1604.8L974.5 1604.4L975.5 1604.8L976.5 1604.7L977.5 1602.9L978.5 1602.3L979.5 1603.5L980.5 1603.6L981.5 1602L982.5 1601.2L983.5 1602.6L984.5 1604L985.5 1603.4L986.5 1602.8L987.5 1602.7L988.5 1602.6L989.5 1603.6L990.5 1604.1L991.5 1602.7L992.5 1602.3L993.5 1603.3L994.5 1603.7L995.5 1603.3L996.5 1602.6L997.5 1602.4L998.5 1602.5L999.5 1602L1000.5 1602.3L1001.5 1603.2L1002.5 1603L1003.5 1602.3L1004.5 1601.9L1005.5 1601.5L1006.5 1601L1007.5 1601.6L1008.5 1602.9L1009.5 1601.7L1010.5 1600.4L1011.5 1601.9L1012.5 1604.1L1013.5 1604.1L1014.5 1602.9L1015.5 1603.4L1016.5 1604.7L1017.5 1605L1018.5 1604L1019.5 1602.2L1020.5 1601.1L1021.5 1601.2L1022.5 1601.9L1023.5 1602.3L1024.5 1602.5L1025.5 1602.7L1026.5 1603.6L1027.5 1603.9L1028.5 1602L1029.5 1600.8L1030.5 1601.6L1031.5 1601.1L1032.5 1599.2L1033.5 1598.7L1034.5 1598.6L1035.5 1597.7L1036.5 1597.3L1037.5 1596.8L1038.5 1594.5L1039.5 1592.6L1040.5 1589L1041.5 1583.6L1042.5 1575.8L1043.5 1568.8L1044.5 1562L1045.5 1552.7L1046.5 1542.4L1047.5 1530.9L1048.5 1519.6L1049.5 1508.6L1050.5 1496.1L1051.5 1483.7L1052.5 1473.2L1053.5 1464L1054.5 1456.6L1055.5 1450.8L1056.5 1445L1057.5 1438.6L1058.5 1435.2L1059.5 1432.8L1060.5 1424.1L1061.5 1405.3L1062.5 1390.5L1063.5 1383.5L1064.5 1378.4L1065.5 1376.6L1066.5 1377.9L1067.5 1406.3L1068.5 1424.8L1069.5 1435.5L1070.5 1438.5L1071.5 1441.3L1072.5 1443.4L1073.5 1444.8L1074.5 1446.2L1075.5 1439.7L1076.5 1422.7L1077.5 1402.8L1078.5 1400.6L1079.5 1399.4L1080.5 1402.5L1081.5 1410.9L1082.5 1427.2L1083.5 1460L1084.5 1495L1085.5 1522.4L1086.5 1539.3L1087.5 1551.4L1088.5 1558.7L1089.5 1560.1L1090.5 1561.9L1091.5 1563.7L1092.5 1568L1093.5 1576.7L1094.5 1582.5L1095.5 1589.8L1096.5 1593.6L1097.5 1596.3L1098.5 1598.1L1099.5 1598.1L1100.5 1598.5L1101.5 1599.4L1102.5 1601.2L1103.5 1603.1L1104.5 1603L1105.5 1601.8L1106.5 1601.6L1107.5 1601.9L1108.5 1602.1L1109.5 1603.3L1110.5 1605L1111.5 1605.1L1112.5 1604.5L1113.5 1604.7L1114.5 1604.8L1115.5 1604.8L1116.5 1605.4L1117.5 1604.6L1118.5 1603L1119.5 1602.4L1120.5 1602.5L1121.5 1602.6L1122.5 1602.9L1123.5 1603.1L1124.5 1603L1125.5 1604.5L1126.5 1606L1127.5 1605.1L1128.5 1603.9L1129.5 1603.2L1130.5 1602.7L1131.5 1603.1L1132.5 1603.5L1133.5 1603.7L1134.5 1604.1L1135.5 1604L1136.5 1602.8L1137.5 1601.2L1138.5 1601.4L1139.5 1602.1L1140.5 1601.8L1141.5 1602.7L1142.5 1603.4L1143.5 1602L1144.5 1601.7L1145.5 1602.6L1146.5 1602.4L1147.5 1602.2L1148.5 1602.6L1149.5 1603L1150.5 1603.1L1151.5 1602.1L1152.5 1600.6L1153.5 1601.1L1154.5 1602.8L1155.5 1603.9L1156.5 1604.8L1157.5 1605.2L1158.5 1604.3L1159.5 1602.1L1160.5 1602.1L1161.5 1604.2L1162.5 1603.3L1163.5 1601.2L1164.5 1601.5L1165.5 1601.3L1166.5 1601.1L1167.5 1601.4L1168.5 1601.6L1169.5 1602.5L1170.5 1603.2L1171.5 1603.7L1172.5 1604.8L1173.5 1604.7L1174.5 1603.1L1175.5 1602.5L1176.5 1603L1177.5 1604L1178.5 1603.2L1179.5 1600.9L1180.5 1601.2L1181.5 1603.3L1182.5 1604.1L1183.5 1603.7L1184.5 1603.7L1185.5 1604.3L1186.5 1604.7L1187.5 1604.6L1188.5 1604.5L1189.5 1604L1190.5 1603.1L1191.5 1602.8L1192.5 1602.5L1193.5 1601.9L1194.5 1603.3L1195.5 1605.3L1196.5 1605.3L1197.5 1604.2L1198.5 1604.2L1199.5 1604.6L1200.5 1603.1L1201.5 1601.5L1202.5 1602L1203.5 1603.8L1204.5 1604.4L1205.5 1604.7L1206.5 1605.1L1207.5 1603.3L1208.5 1601.6L1209.5 1602L1210.5 1602.2L1211.5 1602.2L1212.5 1603.3L1213.5 1603.4L1214.5 1602L1215.5 1601.8L1216.5 1602.8L1217.5 1603.2L1218.5 1603.3L1219.5 1603.2L1220.5 1602.3L1221.5 1602.1L1222.5 1602.9L1223.5 1603.1L1224.5 1603L1225.5 1603.2L1226.5 1603.7L1227.5 1605.2L1228.5 1605.6L1229.5 1604.1L1230.5 1603.6L1231.5 1603.8L1232.5 1603.4L1233.5 1603.8L1234.5 1604.7L1235.5 1604.4L1236.5 1603.6L1237.5 1603.7L1238.5 1604.1L1239.5 1604.7L1240.5 1604.9L1241.5 1603.5L1242.5 1602.4L1243.5 1602.9L1244.5 1604.6L1245.5 1605L1246.5 1604L1247.5 1603L1248.5 1603.3L1249.5 1603.5L1250.5 1603.2L1251.5 1602.8L1252.5 1601.8L1253.5 1602.3L1254.5 1602.8L1255.5 1602.8L1256.5 1603.4L1257.5 1602.3L1258.5 1600.8L1259.5 1601L1260.5 1600.9L1261.5 1600.4L1262.5 1600.3L1263.5 1601.3L1264.5 1601.8L1265.5 1600.5L1266.5 1599.3L1267.5 1598.2L1268.5 1597.5L1269.5 1598.1L1270.5 1597.4L1271.5 1596.1L1272.5 1596.4L1273.5 1597.1L1274.5 1598L1275.5 1598L1276.5 1596.4L1277.5 1596.3L1278.5 1597L1279.5 1596.4L1280.5 1595.9L1281.5 1596L1282.5 1595.8L1283.5 1595.3L1284.5 1594.9L1285.5 1595.7L1286.5 1595.9L1287.5 1595.2L1288.5 1595.5L1289.5 1596L1290.5 1596.9L1291.5 1597.8L1292.5 1598.3L1293.5 1598.6L1294.5 1598.1L1295.5 1598.2L1296.5 1598.7L1297.5 1598.4L1298.5 1598.5L1299.5 1598.6L1300.5 1597.1L1301.5 1596.8L1302.5 1598.4L1303.5 1599.1L1304.5 1599.5L1305.5 1600L1306.5 1600.5L1307.5 1600.8L1308.5 1600.6L1309.5 1601L1310.5 1601.1L1311.5 1600.6L1312.5 1600.9L1313.5 1601.6L1314.5 1602.4L1315.5 1602.8L1316.5 1601.9L1317.5 1601.4L1318.5 1602.2L1319.5 1602.7L1320.5 1602.5L1321.5 1602.5L1322.5 1602.6L1323.5 1601.4L1324.5 1599.9L1325.5 1601.6L1326.5 1604.3L1327.5 1603.4L1328.5 1602.7L1329.5 1603.7L1330.5 1602.8L1331.5 1601.7L1332.5 1603.1L1333.5 1605.2L1334.5 1604.7L1335.5 1603L1336.5 1603.2L1337.5 1604.6L1338.5 1604.5L1339.5 1604L1340.5 1604L1341.5 1603.8L1342.5 1603.4L1343.5 1602.8L1344.5 1602.1L1345.5 1601.9L1346.5 1602.3L1347.5 1602.3L1348.5 1603.1L1349.5 1604.4L1350.5 1603.8L1351.5 1602.4L1352.5 1602.6L1353.5 1604.2L1354.5 1604.3L1355.5 1602.1L1356.5 1601.7L1357.5 1603.4L1358.5 1603.5L1359.5 1602.2L1360.5 1602.3L1361.5 1603.3L1362.5 1604.2L1363.5 1604.7L1364.5 1604.5L1365.5 1605.2L1366.5 1606.3L1367.5 1605.8L1368.5 1604.6L1369.5 1604.7L1370.5 1605.2L1371.5 1604.3L1372.5 1602.4L1373.5 1601.7L1374.5 1603.1L1375.5 1604L1376.5 1603.2L1377.5 1602.8L1378.5 1603L1379.5 1603.6L1380.5 1603.5L1381.5 1602.3L1382.5 1602L1383.5 1601.7L1384.5 1602.5L1385.5 1604.5L1386.5 1604.1L1387.5 1603.4L1388.5 1603.6L1389.5 1603.5L1390.5 1603.8L1391.5 1603L1392.5 1602.5L1393.5 1603.6L1394.5 1603.3L1395.5 1601.8L1396.5 1602.5L1397.5 1604.5L1398.5 1604.8L1399.5 1602.8L1400.5 1602L1401.5 1603.6L1402.5 1604L1403.5 1603.2L1404.5 1603.2L1405.5 1604.1L1406.5 1604.6L1407.5 1603.6L1408.5 1602.4L1409.5 1602.3L1410.5 1602.3L1411.5 1602.5L1412.5 1602.6L1413.5 1601.2L1414.5 1600.3L1415.5 1601.4L1416.5 1603.3L1417.5 1604.6L1418.5 1604.7L1419.5 1603.3L1420.5 1601.3L1421.5 1601.5L1422.5 1603.7L1423.5 1604.9L1424.5 1606.2L1425.5 1605.8L1426.5 1604.2L1427.5 1604.1L1428.5 1603.6L1429.5 1603.2L1430.5 1604.4L1431.5 1604.4L1432.5 1603.9L1433.5 1604.5L1434.5 1604.9L1435.5 1604.3L1436.5 1603.1L1437.5 1602.3L1438.5 1603.2L1439.5 1604.3L1440.5 1602.6L1441.5 1601.3L1442.5 1602.8L1443.5 1603.4L1444.5 1602.5L1445.5 1602.5L1446.5 1603.3L1447.5 1603.5L1448.5 1603.8L1449.5 1604.4L1450.5 1603.4L1451.5 1602.2L1452.5 1602.2L1453.5 1603L1454.5 1604L1455.5 1604L1456.5 1603.5L1457.5 1604.2L1458.5 1604.3L1459.5 1602.9L1460.5 1602.8L1461.5 1604.8L1462.5 1605.5L1463.5 1603.8L1464.5 1602.5L1465.5 1602.2L1466.5 1602.6L1467.5 1603.4L1468.5 1603.7L1469.5 1604.3L1470.5 1604.3L1471.5 1603L1472.5 1602.3L1473.5 1602.7L1474.5 1602.3L1475.5 1602.7L1476.5 1604.4L1477.5 1604.6L1478.5 1603.9L1479.5 1603.3L1480.5 1603.4L1481.5 1604.1L1482.5 1604L1483.5 1604.1L1484.5 1604.3L1485.5 1603.3L1486.5 1602.4L1487.5 1602.4L1488.5 1602.7L1489.5 1602.6L1490.5 1602.8L1491.5 1603.4L1492.5 1603.3L1493.5 1603.9L1494.5 1605L1495.5 1605.1L1496.5 1605.5L1497.5 1605.7L1498.5 1604.4L1499.5 1603.3L1500.5 1604.7L1501.5 1604.9L1502.5 1603.7L1503.5 1604.2L1504.5 1605.2L1505.5 1604.1L1506.5 1602.3L1507.5 1603.4L1508.5 1604.8L1509.5 1604.2L1510.5 1602.7L1511.5 1602.1L1512.5 1603.4L1513.5 1604.2L1514.5 1603.5L1515.5 1602.7L1516.5 1601.8L1517.5 1601.5L1518.5 1602.8L1519.5 1603.9L1520.5 1604.6L1521.5 1604.8L1522.5 1604.5L1523.5 1604L1524.5 1603.6L1525.5 1603.9L1526.5 1604L1527.5 1604.4L1528.5 1604.7L1529.5 1603.3L1530.5 1602.1L1531.5 1602L1532.5 1602.2L1533.5 1602.4L1534.5 1601.9L1535.5 1602.5L1536.5 1602.4L1537.5 1602.1L1538.5 1603.6L1539.5 1604.3L1540.5 1604.3L1541.5 1604.2L1542.5 1603.4L1543.5 1603.3L1544.5 1603.4L1545.5 1602.7L1546.5 1602.5L1547.5 1603.1L1548.5 1603.2L1549.5 1603.5L1550.5 1603.2L1551.5 1602.7L1552.5 1603.9L1553.5 1605.2L1554.5 1605.3L1555.5 1604.3L1556.5 1604L1557.5 1604.1L1558.5 1603.1L1559.5 1602.9L1560.5 1604.7L1561.5 1606.1L1562.5 1605.4L1563.5 1604.1L1564.5 1603.3L1565.5 1603.4L1566.5 1603.4L1567.5 1602.6L1568.5 1602.5L1569.5 1602.7L1570.5 1602L1571.5 1601.7L1572.5 1602.5L1573.5 1603.3L1574.5 1604.4L1575.5 1605.1L1576.5 1605L1577.5 1605L1578.5 1604.3L1579.5 1603.1L1580.5 1603.3L1581.5 1604L1582.5 1603.9L1583.5 1603.3L1584.5 1603.3L1585.5 1604.3L1586.5 1605.9L1587.5 1606.8L1588.5 1605.8L1589.5 1604.5L1590.5 1603.9L1591.5 1603.8L1592.5 1604.1L1593.5 1604.2L1594.5 1604.8L1595.5 1604.4L1596.5 1603L1597.5 1602.4L1598.5 1602L1599.5 1602.1L1600.5 1602.8L1601.5 1602.2L1602.5 1600.9L1603.5 1600.8L1604.5 1600.3L1605.5 1600.3L1606.5 1601.6L1607.5 1601.9L1608.5 1600.8L1609.5 1600.1L1610.5 1599.6L1611.5 1598L1612.5 1595L1613.5 1593.4L1614.5 1592.1L1615.5 1591L1616.5 1589.9L1617.5 1589.4L1618.5 1588.9L1619.5 1589L1620.5 1589.9L1621.5 1590.7L1622.5 1586.9L1623.5 1578.1L1624.5 1576.2L1625.5 1574.3L1626.5 1572.9L1627.5 1572.4L1628.5 1571.7L1629.5 1570.7L1630.5 1570L1631.5 1569.8L1632.5 1569.7L1633.5 1578L1634.5 1586.1L1635.5 1585.9L1636.5 1585.6L1637.5 1585.2L1638.5 1578.3L1639.5 1569.3L1640.5 1569.3L1641.5 1569.4L1642.5 1569.7L1643.5 1570.1L1644.5 1570.1L1645.5 1571.1L1646.5 1574.2L1647.5 1579L1648.5 1583.4L1649.5 1587.9L1650.5 1590.6L1651.5 1591L1652.5 1591.4L1653.5 1592.1L1654.5 1592.7L1655.5 1593.5L1656.5 1594.2L1657.5 1601L1658.5 1600.5L1659.5 1599.9L1660.5 1599.3L1661.5 1599.7L1662.5 1600.5L1663.5 1600.7L1664.5 1601L1665.5 1601.5L1666.5 1602.5L1667.5 1605.1L1668.5 1605.1L1669.5 1602.6L1670.5 1603.3L1671.5 1605L1672.5 1605L1673.5 1605.5L1674.5 1605.7L1675.5 1604.4L1676.5 1602.8L1677.5 1602.9L1678.5 1603.5L1679.5 1602.4L1680.5 1602L1681.5 1603.2L1682.5 1603.8L1683.5 1603.1L1684.5 1602.8L1685.5 1603.2L1686.5 1603.8L1687.5 1604.5L1688.5 1604.4L1689.5 1603.5L1690.5 1603.1L1691.5 1603.2L1692.5 1604L1693.5 1604.6L1694.5 1604.6L1695.5 1603.8L1696.5 1603L1697.5 1604.1L1698.5 1603.9L1699.5 1602.2L1700.5 1601.7L1701.5 1602.4L1702.5 1605.1L1703.5 1606.4L1704.5 1604.4L1705.5 1602.9L1706.5 1602.5L1707.5 1602.5L1708.5 1603.9L1709.5 1605L1710.5 1604L1711.5 1601.9L1712.5 1601.9L1713.5 1603.1L1714.5 1603.2L1715.5 1603.4L1716.5 1603.8L1717.5 1603.2L1718.5 1603.2L1719.5 1603.5L1720.5 1601.6L1721.5 1601.5L1722.5 1603.7L1723.5 1604L1724.5 1603.6L1725.5 1602.7L1726.5 1600.8L1727.5 1599.9L1728.5 1601L1729.5 1601.3L1730.5 1599.6L1731.5 1598.5L1732.5 1599L1733.5 1598.3L1734.5 1596.9L1735.5 1596.7L1736.5 1596.3L1737.5 1595.6L1738.5 1595.6L1739.5 1595.9L1740.5 1594.8L1741.5 1594.3L1742.5 1594.7L1743.5 1594.9L1744.5 1595.1L1745.5 1595.5L1746.5 1595.6L1747.5 1594.9L1748.5 1593.9L1749.5 1593.2L1750.5 1593.1L1751.5 1592.9L1752.5 1592.6L1753.5 1593L1754.5 1594.1L1755.5 1593.8L1756.5 1593.7L1757.5 1595.5L1758.5 1595.4L1759.5 1593.2L1760.5 1592.4L1761.5 1593.8L1762.5 1595.1L1763.5 1595.4L1764.5 1595.8L1765.5 1597.1L1766.5 1599L1767.5 1599L1768.5 1597.3L1769.5 1596.2L1770.5 1596.7L1771.5 1597.8L1772.5 1597.8L1773.5 1597.5L1774.5 1597.2L1775.5 1597.3L1776.5 1597.7L1777.5 1598L1778.5 1597.9L1779.5 1598L1780.5 1598.3L1781.5 1599L1782.5 1600L1783.5 1599.7L1784.5 1598.9L1785.5 1599.8L1786.5 1601.7L1787.5 1601.4L1788.5 1599.6L1789.5 1598.9L1790.5 1599.6L1791.5 1601.1L1792.5 1601.7L1793.5 1602L1794.5 1603.1L1795.5 1603L1796.5 1601.5L1797.5 1601.4L1798.5 1601.9L1799.5 1602.6L1800.5 1603.6L1801.5 1603.5L1802.5 1604L1803.5 1604.7L1804.5 1604.5L1805.5 1605L1806.5 1605.7L1807.5 1605.3L1808.5 1605L1809.5 1604.7L1810.5 1603.8L1811.5 1602.4L1812.5 1601.5L1813.5 1602.5L1814.5 1603.6L1815.5 1604.3L1816.5 1604.8L1817.5 1604.8L1818.5 1604.2L1819.5 1603.7L1820.5 1603.8L1821.5 1603.6L1822.5 1603.8L1823.5 1604.1L1824.5 1603.7L1825.5 1604.8L1826.5 1605L1827.5 1603.9L1828.5 1604.9L1829.5 1607L1830.5 1606.9L1831.5 1604.1L1832.5 1602.4L1833.5 1602.9L1834.5 1603.6L1835.5 1604.1L1836.5 1604.3L1837.5 1605L1838.5 1605L1839.5 1603.7L1840.5 1602.5L1841.5 1602.5L1842.5 1602.9L1843.5 1603.4L1844.5 1604.4L1845.5 1604.3L1846.5 1603.6L1847.5 1603L1848.5 1603L1849.5 1603.9L1850.5 1604.6L1851.5 1604.6L1852.5 1604.3L1853.5 1603.7L1854.5 1603.2L1855.5 1603.4L1856.5 1603.6L1857.5 1603.6L1858.5 1604.3L1859.5 1604.2L1860.5 1603.3L1861.5 1603.3L1862.5 1603.4L1863.5 1603.1L1864.5 1604.2L1865.5 1605.3L1866.5 1604L1867.5 1603.1L1868.5 1603.1L1869.5 1603.2L1870.5 1603.7L1871.5 1603.1L1872.5 1602.8L1873.5 1603.7L1874.5 1603.4L1875.5 1603.8L1876.5 1605.5L1877.5 1604.8L1878.5 1603L1879.5 1602.7L1880.5 1603.5L1881.5 1603.6L1882.5 1604.4L1883.5 1604.6L1884.5 1603.1L1885.5 1603.8L1886.5 1604.6L1887.5 1603.9L1888.5 1604.3L1889.5 1604.2L1890.5 1603.1L1891.5 1603.4L1892.5 1604.5L1893.5 1604.5L1894.5 1603.7L1895.5 1602.7L1896.5 1602.3L1897.5 1602.9L1898.5 1603.4L1899.5 1604.2L1900.5 1605.1L1901.5 1604.4L1902.5 1603.3L1903.5 1604.1L1904.5 1604.5L1905.5 1603.5L1906.5 1602.7L1907.5 1603.3L1908.5 1603.2L1909.5 1601.1L1910.5 1600.6L1911.5 1602L1912.5 1603.1L1913.5 1603.3L1914.5 1603.4L1915.5 1603.7L1916.5 1604.3L1917.5 1605.2L1918.5 1605.5L1919.5 1604.5L1920.5 1603.5L1921.5 1603L1922.5 1602.8L1923.5 1603.1L1924.5 1604.2L1925.5 1604.6L1926.5 1605.1L1927.5 1605.1L1928.5 1604.5L1929.5 1605L1930.5 1605L1931.5 1604.6L1932.5 1605L1933.5 1604.7L1934.5 1603.5L1935.5 1603.4L1936.5 1604L1937.5 1604.3L1938.5 1604.1L1939.5 1604.2L1940.5 1604.7L1941.5 1605.8L1942.5 1606.7L1943.5 1605.2L1944.5 1603.8L1945.5 1604.4L1946.5 1604.1L1947.5 1603.8L1948.5 1604.7L1949.5 1604.8L1950.5 1603.7L1951.5 1602.3L1952.5 1601.9L1953.5 1602.8L1954.5 1603.6L1955.5 1604.1L1956.5 1604.8L1957.5 1605.2L1958.5 1604.2L1959.5 1602.8L1960.5 1603.1L1961.5 1603.9L1962.5 1603.7L1963.5 1602.2L1964.5 1601.4L1965.5 1602.5L1966.5 1603.8L1967.5 1603.5L1968.5 1603L1969.5 1603.9L1970.5 1604.8L1971.5 1604.7L1972.5 1604.8L1973.5 1605.1L1974.5 1605.5L1975.5 1605.6L1976.5 1605.2L1977.5 1605.2L1978.5 1604.8L1979.5 1604.6L1980.5 1603.9L1981.5 1603.1L1982.5 1604.2L1983.5 1604.8L1984.5 1604.7L1985.5 1604.3L1986.5 1604.1L1987.5 1604.7L1988.5 1604.2L1989.5 1603.6L1990.5 1603.7L1991.5 1603.8L1992.5 1604.5L1993.5 1605.6L1994.5 1605.4L1995.5 1604.4L1996.5 1604.2L1997.5 1605.3L1998.5 1605.7L1999.5 1604.4L2000.5 1603.7L2001.5 1605L2002.5 1605.4L2003.5 1605.2L2004.5 1605L2005.5 1605.2L2006.5 1605.6L2007.5 1604.4L2008.5 1603.7L2009.5 1604.6L2010.5 1605.4L2011.5 1605.5L2012.5 1604.7L2013.5 1604.3L2014.5 1604.3L2015.5 1603.9L2016.5 1603.7L2017.5 1604.9L2018.5 1605.7L2019.5 1604.3L2020.5 1604L2021.5 1604.7L2022.5 1604.1L2023.5 1604.1L2024.5 1605.3L2025.5 1606L2026.5 1606.3L2027.5 1606.1L2028.5 1604.5L2029.5 1603.3L2030.5 1604.2L2031.5 1605.4L2032.5 1605L2033.5 1603.8L2034.5 1603.8L2035.5 1603.5L2036.5 1603.1L2037.5 1603.1L2038.5 1601.9L2039.5 1601.4L2040.5 1602.8L2041.5 1602.8L2042.5 1602.3L2043.5 1603.1L2044.5 1603L2045.5 1601.9L2046.5 1601.9L2047.5 1602.3L2048.5 1602.1L2049.5 1600.6L2050.5 1599.9L2051.5 1600.7L2052.5 1600.2L2053.5 1599L2054.5 1598L2055.5 1596.8L2056.5 1597.5L2057.5 1599.4L2058.5 1599.8L2059.5 1598.7L2060.5 1597.8L2061.5 1597.8L2062.5 1597.9L2063.5 1598.2L2064.5 1598.8L2065.5 1599.5L2066.5 1600L2067.5 1599.9L2068.5 1598.7L2069.5 1597.1L2070.5 1596.4L2071.5 1596.1L2072.5 1596.7L2073.5 1597.7L2074.5 1597.4L2075.5 1597.2L2076.5 1597.7L2077.5 1598.1L2078.5 1598.6L2079.5 1599.5L2080.5 1600.7L2081.5 1600.2L2082.5 1598.7L2083.5 1598.2L2084.5 1598.2L2085.5 1598.6L2086.5 1599.4L2087.5 1599.7L2088.5 1599.3L2089.5 1598.6L2090.5 1597.4L2091.5 1598.3L2092.5 1600.8L2093.5 1600.7L2094.5 1600L2095.5 1601.1L2096.5 1602.2L2097.5 1602.2L2098.5 1602L2099.5 1601.1L2100.5 1601.3L2101.5 1602.8L2102.5 1603.3L2103.5 1603.5L2104.5 1603.5L2105.5 1603.2L2106.5 1603.4L2107.5 1603.1L2108.5 1603.2L2109.5 1603.4L2110.5 1602.9L2111.5 1603.4L2112.5 1604.5L2113.5 1603.4L2114.5 1602.8L2115.5 1604.1L2116.5 1604.3L2117.5 1604.3L2118.5 1603.5L2119.5 1603L2120.5 1604.9L2121.5 1606L2122.5 1604.3L2123.5 1603.8L2124.5 1605L2125.5 1604.7L2126.5 1604.3L2127.5 1606L2128.5 1606.2L2129.5 1604.4L2130.5 1603.9L2131.5 1605.2L2132.5 1605.7L2133.5 1604.9L2134.5 1604.4L2135.5 1604.3L2136.5 1604.8L2137.5 1604.6L2138.5 1603.8L2139.5 1604.2L2140.5 1604.7L2141.5 1604.1L2142.5 1604.8L2143.5 1606.1L2144.5 1604.7L2145.5 1602.7L2146.5 1601.9L2147.5 1603L2148.5 1604.6L2149.5 1605.1L2150.5 1605.8L2151.5 1606L2152.5 1605.2L2153.5 1603.8L2154.5 1603.2L2155.5 1603.6L2156.5 1603L2157.5 1602.6L2158.5 1604.4L2159.5 1605.9L2160.5 1605.2L2161.5 1604L2162.5 1604.7L2163.5 1605.1L2164.5 1603.7L2165.5 1603.1L2166.5 1603.4L2167.5 1602.8L2168.5 1603L2169.5 1603.7L2170.5 1603.7L2171.5 1604.2L2172.5 1604.2L2173.5 1603.7L2174.5 1603.4L2175.5 1602.4L2176.5 1601.9L2177.5 1602.4L2178.5 1603.1L2179.5 1603.7L2180.5 1604.4L2181.5 1603.8L2182.5 1602.6L2183.5 1602.9L2184.5 1603.2L2185.5 1603.4L2186.5 1604.6" fill="none" stroke="#0000ff" stroke-width="9.8" stroke-linejoin="round" stroke-linecap="butt"/>
</g>
<text class="t" transform="translate(146.6 1243.5) scale(1 1.035)" style="fill:#ff0000;stroke:#ff0000">(a)</text>
<text class="t" transform="translate(142.7 1569) scale(1 1.035)" style="fill:#0000ff;stroke:#0000ff">(b)</text>
<text class="t" transform="translate(392.6 1796) scale(1 1.035)" text-anchor="middle">30</text>
<text class="t" transform="translate(904 1796) scale(1 1.035)" text-anchor="middle">40</text>
<text class="t" transform="translate(1417 1796) scale(1 1.035)" text-anchor="middle">50</text>
<text class="t" transform="translate(1930 1796) scale(1 1.035)" text-anchor="middle">60</text>
<text class="ax" transform="translate(92 1071.8) rotate(-90) scale(1 1.035)">Intensity (u.a.)</text>
<text class="ax" transform="translate(939.3 1938.7) scale(1 1.035)">2<tspan class="th" dx="1.8" style="font-size:83px" textLength="46.05" lengthAdjust="spacingAndGlyphs">θ</tspan> <tspan x="118.6">(degree)</tspan></text>
</svg></body></html>
